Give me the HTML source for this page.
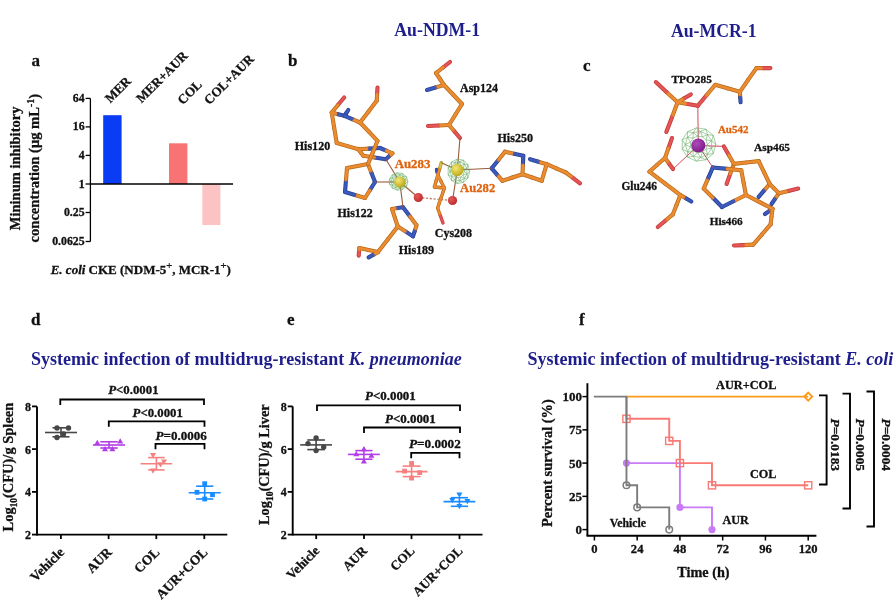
<!DOCTYPE html>
<html><head><meta charset="utf-8"><style>
html,body{margin:0;padding:0;background:#fff;width:895px;height:600px;overflow:hidden}
svg{display:block;will-change:transform}
text{stroke-width:0.3px}
</style></head><body>
<svg width="895" height="600" viewBox="0 0 895 600">
<rect width="895" height="600" fill="#fff"/>
<text x="31.5" y="65.8" font-size="17" fill="#111" stroke="#111" text-anchor="start" style="font-family:'Liberation Serif',serif;font-weight:bold" >a</text>
<text x="288" y="66" font-size="17" fill="#111" stroke="#111" text-anchor="start" style="font-family:'Liberation Serif',serif;font-weight:bold" >b</text>
<text x="583" y="70.7" font-size="17" fill="#111" stroke="#111" text-anchor="start" style="font-family:'Liberation Serif',serif;font-weight:bold" >c</text>
<text x="31" y="325" font-size="17" fill="#111" stroke="#111" text-anchor="start" style="font-family:'Liberation Serif',serif;font-weight:bold" >d</text>
<text x="287" y="325" font-size="17" fill="#111" stroke="#111" text-anchor="start" style="font-family:'Liberation Serif',serif;font-weight:bold" >e</text>
<text x="579" y="324.8" font-size="17" fill="#111" stroke="#111" text-anchor="start" style="font-family:'Liberation Serif',serif;font-weight:bold" >f</text>
<text x="394.3" y="36.4" font-size="18.2" fill="#1d1d8c" text-anchor="start" textLength="85.8" lengthAdjust="spacingAndGlyphs" style="font-family:'Liberation Serif',serif;font-weight:bold" >Au-NDM-1</text>
<text x="670.9" y="36.6" font-size="18.2" fill="#1d1d8c" text-anchor="start" textLength="85.7" lengthAdjust="spacingAndGlyphs" style="font-family:'Liberation Serif',serif;font-weight:bold" >Au-MCR-1</text>
<line x1="90.40" y1="98.40" x2="90.40" y2="241.50" stroke="#000" stroke-width="1.3" />
<line x1="85.60" y1="98.40" x2="90.40" y2="98.40" stroke="#000" stroke-width="1.3" />
<text x="84.6" y="101.9" font-size="11.8" fill="#111" stroke="#111" text-anchor="end" style="font-family:'Liberation Serif',serif;font-weight:bold" >64</text>
<line x1="85.60" y1="126.90" x2="90.40" y2="126.90" stroke="#000" stroke-width="1.3" />
<text x="84.6" y="130.4" font-size="11.8" fill="#111" stroke="#111" text-anchor="end" style="font-family:'Liberation Serif',serif;font-weight:bold" >16</text>
<line x1="85.60" y1="155.40" x2="90.40" y2="155.40" stroke="#000" stroke-width="1.3" />
<text x="84.6" y="158.9" font-size="11.8" fill="#111" stroke="#111" text-anchor="end" style="font-family:'Liberation Serif',serif;font-weight:bold" >4</text>
<line x1="85.60" y1="184.00" x2="90.40" y2="184.00" stroke="#000" stroke-width="1.3" />
<text x="84.6" y="187.5" font-size="11.8" fill="#111" stroke="#111" text-anchor="end" style="font-family:'Liberation Serif',serif;font-weight:bold" >1</text>
<line x1="85.60" y1="212.50" x2="90.40" y2="212.50" stroke="#000" stroke-width="1.3" />
<text x="84.6" y="216.0" font-size="11.8" fill="#111" stroke="#111" text-anchor="end" style="font-family:'Liberation Serif',serif;font-weight:bold" >0.25</text>
<line x1="85.60" y1="241.50" x2="90.40" y2="241.50" stroke="#000" stroke-width="1.3" />
<text x="84.6" y="245.0" font-size="11.8" fill="#111" stroke="#111" text-anchor="end" style="font-family:'Liberation Serif',serif;font-weight:bold" >0.0625</text>
<rect x="103.2" y="115.2" width="18.4" height="68.8" fill="#0a3cf5"/>
<rect x="169" y="143.3" width="18.4" height="40.7" fill="#f87474"/>
<rect x="202.3" y="184" width="18.1" height="41" fill="#fdc3c3"/>
<line x1="90.40" y1="184.00" x2="233.00" y2="184.00" stroke="#000" stroke-width="1.3" />
<text x="110.2" y="103.6" font-size="13.1" fill="#111" stroke="#111" text-anchor="start" transform="rotate(-45 110.2 103.6)" style="font-family:'Liberation Serif',serif;font-weight:bold" >MER</text>
<text x="141.6" y="103.6" font-size="13.1" fill="#111" stroke="#111" text-anchor="start" transform="rotate(-45 141.6 103.6)" style="font-family:'Liberation Serif',serif;font-weight:bold" >MER+AUR</text>
<text x="182.7" y="105.3" font-size="13.1" fill="#111" stroke="#111" text-anchor="start" transform="rotate(-45 182.7 105.3)" style="font-family:'Liberation Serif',serif;font-weight:bold" >COL</text>
<text x="209.2" y="105.3" font-size="13.1" fill="#111" stroke="#111" text-anchor="start" transform="rotate(-45 209.2 105.3)" style="font-family:'Liberation Serif',serif;font-weight:bold" >COL+AUR</text>
<text x="20.4" y="230.2" font-size="14.49" fill="#111" stroke="#111" text-anchor="start" textLength="123.6" lengthAdjust="spacingAndGlyphs" transform="rotate(-90 20.4 230.2)" style="font-family:'Liberation Serif',serif;font-weight:bold" >Mininum inhibitory</text>
<text x="38.6" y="242.5" font-size="15" fill="#111" stroke="#111" textLength="148.5" lengthAdjust="spacingAndGlyphs" transform="rotate(-90 38.6 242.5)" style="font-family:'Liberation Serif',serif;font-weight:bold">concentration (&#956;g mL<tspan font-size="10" dy="-5">-1</tspan><tspan dy="5">)</tspan></text>
<text x="50.7" y="274.1" font-size="13" fill="#111" stroke="#111" style="font-family:'Liberation Serif',serif;font-weight:bold"><tspan font-style="italic">E. coli</tspan> CKE (NDM-5<tspan font-size="10.5" dy="-5" font-weight="normal">+</tspan><tspan dy="5">, MCR-1</tspan><tspan font-size="10.5" dy="-5" font-weight="normal">+</tspan><tspan dy="5">)</tspan></text>
<line x1="37.00" y1="406.40" x2="37.00" y2="535.50" stroke="#000" stroke-width="1.9" />
<line x1="32.00" y1="406.40" x2="37.00" y2="406.40" stroke="#000" stroke-width="1.8" />
<text x="31" y="410.9" font-size="12" fill="#111" stroke="#111" text-anchor="end" style="font-family:'Liberation Serif',serif;font-weight:bold" >8</text>
<line x1="32.00" y1="449.13" x2="37.00" y2="449.13" stroke="#000" stroke-width="1.8" />
<text x="31" y="453.6333333333333" font-size="12" fill="#111" stroke="#111" text-anchor="end" style="font-family:'Liberation Serif',serif;font-weight:bold" >6</text>
<line x1="32.00" y1="491.87" x2="37.00" y2="491.87" stroke="#000" stroke-width="1.8" />
<text x="31" y="496.3666666666667" font-size="12" fill="#111" stroke="#111" text-anchor="end" style="font-family:'Liberation Serif',serif;font-weight:bold" >4</text>
<line x1="32.00" y1="534.60" x2="37.00" y2="534.60" stroke="#000" stroke-width="1.8" />
<text x="31" y="539.1" font-size="12" fill="#111" stroke="#111" text-anchor="end" style="font-family:'Liberation Serif',serif;font-weight:bold" >2</text>
<line x1="37.00" y1="534.60" x2="227.30" y2="534.60" stroke="#000" stroke-width="1.9" />
<line x1="60.90" y1="534.60" x2="60.90" y2="539.10" stroke="#000" stroke-width="1.8" />
<line x1="108.60" y1="534.60" x2="108.60" y2="539.10" stroke="#000" stroke-width="1.8" />
<line x1="156.30" y1="534.60" x2="156.30" y2="539.10" stroke="#000" stroke-width="1.8" />
<line x1="204.30" y1="534.60" x2="204.30" y2="539.10" stroke="#000" stroke-width="1.8" />
<polyline points="60.30,405.00 60.30,399.50 204.00,399.50 204.00,405.00" stroke="#000" stroke-width="1.8" fill="none" />
<polyline points="108.80,426.80 108.80,421.30 204.50,421.30 204.50,426.80" stroke="#000" stroke-width="1.8" fill="none" />
<polyline points="155.50,449.30 155.50,443.80 204.50,443.80 204.50,449.30" stroke="#000" stroke-width="1.8" fill="none" />
<text x="108.2" y="393.8" font-size="13" fill="#111" stroke="#111" textLength="50.4" lengthAdjust="spacingAndGlyphs" style="font-family:'Liberation Serif',serif;font-weight:bold"><tspan font-style="italic">P</tspan>&lt;0.0001</text>
<text x="132.6" y="416.7" font-size="13" fill="#111" stroke="#111" textLength="50.2" lengthAdjust="spacingAndGlyphs" style="font-family:'Liberation Serif',serif;font-weight:bold"><tspan font-style="italic">P</tspan>&lt;0.0001</text>
<text x="155.5" y="439.6" font-size="13" fill="#111" stroke="#111" textLength="51.3" lengthAdjust="spacingAndGlyphs" style="font-family:'Liberation Serif',serif;font-weight:bold"><tspan font-style="italic">P</tspan>=0.0006</text>
<line x1="45.00" y1="432.50" x2="77.00" y2="432.50" stroke="#474747" stroke-width="1.6" />
<line x1="52.50" y1="427.80" x2="69.50" y2="427.80" stroke="#474747" stroke-width="1.6" />
<line x1="52.50" y1="436.80" x2="69.50" y2="436.80" stroke="#474747" stroke-width="1.6" />
<line x1="61.00" y1="427.80" x2="61.00" y2="436.80" stroke="#474747" stroke-width="1.6" />
<circle cx="57" cy="428" r="2.7" fill="#474747"/>
<circle cx="68.5" cy="428" r="2.7" fill="#474747"/>
<circle cx="57" cy="437.5" r="2.7" fill="#474747"/>
<circle cx="63.5" cy="434" r="2.7" fill="#474747"/>
<line x1="93.00" y1="445.00" x2="125.00" y2="445.00" stroke="#b23ee6" stroke-width="1.6" />
<line x1="100.30" y1="441.80" x2="117.70" y2="441.80" stroke="#b23ee6" stroke-width="1.6" />
<line x1="100.30" y1="448.00" x2="117.70" y2="448.00" stroke="#b23ee6" stroke-width="1.6" />
<line x1="109.00" y1="441.80" x2="109.00" y2="448.00" stroke="#b23ee6" stroke-width="1.6" />
<polygon points="97.3,439.8 94.3,445.0 100.3,445.0" fill="#b23ee6"/>
<polygon points="120.2,438.2 117.2,443.4 123.2,443.4" fill="#b23ee6"/>
<polygon points="105,446 102,451.2 108,451.2" fill="#b23ee6"/>
<polygon points="112.4,446 109.4,451.2 115.4,451.2" fill="#b23ee6"/>
<line x1="140.60" y1="463.80" x2="172.20" y2="463.80" stroke="#f58080" stroke-width="1.6" />
<line x1="148.20" y1="457.60" x2="164.60" y2="457.60" stroke="#f58080" stroke-width="1.6" />
<line x1="148.20" y1="469.90" x2="164.60" y2="469.90" stroke="#f58080" stroke-width="1.6" />
<line x1="156.40" y1="457.60" x2="156.40" y2="469.90" stroke="#f58080" stroke-width="1.6" />
<polygon points="153,458.2 150,453.0 156,453.0" fill="#f58080"/>
<polygon points="164,464.6 161,459.40000000000003 167,459.40000000000003" fill="#f58080"/>
<polygon points="160.5,467.4 157.5,462.2 163.5,462.2" fill="#f58080"/>
<polygon points="153,473.8 150,468.6 156,468.6" fill="#f58080"/>
<line x1="188.70" y1="492.70" x2="220.70" y2="492.70" stroke="#1a8cff" stroke-width="1.6" />
<line x1="196.10" y1="486.20" x2="213.30" y2="486.20" stroke="#1a8cff" stroke-width="1.6" />
<line x1="196.10" y1="499.00" x2="213.30" y2="499.00" stroke="#1a8cff" stroke-width="1.6" />
<line x1="204.70" y1="486.20" x2="204.70" y2="499.00" stroke="#1a8cff" stroke-width="1.6" />
<rect x="202.29999999999998" y="481.3" width="4.8" height="4.8" fill="#1a8cff"/>
<rect x="194.6" y="489.90000000000003" width="4.8" height="4.8" fill="#1a8cff"/>
<rect x="210.1" y="492.3" width="4.8" height="4.8" fill="#1a8cff"/>
<rect x="202.29999999999998" y="496.6" width="4.8" height="4.8" fill="#1a8cff"/>
<line x1="292.70" y1="406.40" x2="292.70" y2="535.50" stroke="#000" stroke-width="1.9" />
<line x1="287.70" y1="406.40" x2="292.70" y2="406.40" stroke="#000" stroke-width="1.8" />
<text x="286.7" y="410.9" font-size="12" fill="#111" stroke="#111" text-anchor="end" style="font-family:'Liberation Serif',serif;font-weight:bold" >8</text>
<line x1="287.70" y1="449.13" x2="292.70" y2="449.13" stroke="#000" stroke-width="1.8" />
<text x="286.7" y="453.6333333333333" font-size="12" fill="#111" stroke="#111" text-anchor="end" style="font-family:'Liberation Serif',serif;font-weight:bold" >6</text>
<line x1="287.70" y1="491.87" x2="292.70" y2="491.87" stroke="#000" stroke-width="1.8" />
<text x="286.7" y="496.3666666666667" font-size="12" fill="#111" stroke="#111" text-anchor="end" style="font-family:'Liberation Serif',serif;font-weight:bold" >4</text>
<line x1="287.70" y1="534.60" x2="292.70" y2="534.60" stroke="#000" stroke-width="1.8" />
<text x="286.7" y="539.1" font-size="12" fill="#111" stroke="#111" text-anchor="end" style="font-family:'Liberation Serif',serif;font-weight:bold" >2</text>
<line x1="292.70" y1="534.60" x2="482.50" y2="534.60" stroke="#000" stroke-width="1.9" />
<line x1="316.20" y1="534.60" x2="316.20" y2="539.10" stroke="#000" stroke-width="1.8" />
<line x1="364.00" y1="534.60" x2="364.00" y2="539.10" stroke="#000" stroke-width="1.8" />
<line x1="411.50" y1="534.60" x2="411.50" y2="539.10" stroke="#000" stroke-width="1.8" />
<line x1="459.50" y1="534.60" x2="459.50" y2="539.10" stroke="#000" stroke-width="1.8" />
<polyline points="317.00,410.90 317.00,405.40 460.00,405.40 460.00,410.90" stroke="#000" stroke-width="1.8" fill="none" />
<polyline points="364.00,433.00 364.00,427.50 460.00,427.50 460.00,433.00" stroke="#000" stroke-width="1.8" fill="none" />
<polyline points="411.20,458.30 411.20,452.80 459.50,452.80 459.50,458.30" stroke="#000" stroke-width="1.8" fill="none" />
<text x="365" y="399.7" font-size="12" fill="#111" stroke="#111" textLength="50.8" lengthAdjust="spacingAndGlyphs" style="font-family:'Liberation Serif',serif;font-weight:bold"><tspan font-style="italic">P</tspan>&lt;0.0001</text>
<text x="385" y="422.5" font-size="12" fill="#111" stroke="#111" textLength="50.8" lengthAdjust="spacingAndGlyphs" style="font-family:'Liberation Serif',serif;font-weight:bold"><tspan font-style="italic">P</tspan>&lt;0.0001</text>
<text x="409" y="448" font-size="12" fill="#111" stroke="#111" textLength="51.8" lengthAdjust="spacingAndGlyphs" style="font-family:'Liberation Serif',serif;font-weight:bold"><tspan font-style="italic">P</tspan>=0.0002</text>
<line x1="300.20" y1="444.90" x2="332.00" y2="444.90" stroke="#474747" stroke-width="1.6" />
<line x1="307.30" y1="440.00" x2="324.90" y2="440.00" stroke="#474747" stroke-width="1.6" />
<line x1="307.30" y1="449.60" x2="324.90" y2="449.60" stroke="#474747" stroke-width="1.6" />
<line x1="316.10" y1="440.00" x2="316.10" y2="449.60" stroke="#474747" stroke-width="1.6" />
<circle cx="316.1" cy="438" r="2.7" fill="#474747"/>
<circle cx="308" cy="443.6" r="2.7" fill="#474747"/>
<circle cx="323.7" cy="447.1" r="2.7" fill="#474747"/>
<circle cx="316.1" cy="450.6" r="2.7" fill="#474747"/>
<line x1="348.00" y1="454.40" x2="379.80" y2="454.40" stroke="#b23ee6" stroke-width="1.6" />
<line x1="355.30" y1="450.60" x2="372.50" y2="450.60" stroke="#b23ee6" stroke-width="1.6" />
<line x1="355.30" y1="459.20" x2="372.50" y2="459.20" stroke="#b23ee6" stroke-width="1.6" />
<line x1="363.90" y1="450.60" x2="363.90" y2="459.20" stroke="#b23ee6" stroke-width="1.6" />
<polygon points="363.9,446.1 360.9,451.3 366.9,451.3" fill="#b23ee6"/>
<polygon points="356.3,451.1 353.3,456.3 359.3,456.3" fill="#b23ee6"/>
<polygon points="371.4,452.6 368.4,457.8 374.4,457.8" fill="#b23ee6"/>
<polygon points="363.9,458.2 360.9,463.4 366.9,463.4" fill="#b23ee6"/>
<line x1="395.70" y1="471.60" x2="427.50" y2="471.60" stroke="#f58080" stroke-width="1.6" />
<line x1="402.70" y1="466.10" x2="420.50" y2="466.10" stroke="#f58080" stroke-width="1.6" />
<line x1="402.70" y1="476.60" x2="420.50" y2="476.60" stroke="#f58080" stroke-width="1.6" />
<line x1="411.60" y1="466.10" x2="411.60" y2="476.60" stroke="#f58080" stroke-width="1.6" />
<rect x="409.20000000000005" y="461.1" width="4.8" height="4.8" fill="#f58080"/>
<rect x="402.20000000000005" y="468.70000000000005" width="4.8" height="4.8" fill="#f58080"/>
<rect x="417.3" y="470.20000000000005" width="4.8" height="4.8" fill="#f58080"/>
<rect x="409.20000000000005" y="475.70000000000005" width="4.8" height="4.8" fill="#f58080"/>
<line x1="443.50" y1="501.60" x2="475.30" y2="501.60" stroke="#1a8cff" stroke-width="1.6" />
<line x1="450.80" y1="497.70" x2="468.00" y2="497.70" stroke="#1a8cff" stroke-width="1.6" />
<line x1="450.80" y1="506.30" x2="468.00" y2="506.30" stroke="#1a8cff" stroke-width="1.6" />
<line x1="459.40" y1="497.70" x2="459.40" y2="506.30" stroke="#1a8cff" stroke-width="1.6" />
<polygon points="459.4,497.7 456.4,492.5 462.4,492.5" fill="#1a8cff"/>
<polygon points="452.3,503.3 449.3,498.1 455.3,498.1" fill="#1a8cff"/>
<polygon points="467.4,504.3 464.4,499.1 470.4,499.1" fill="#1a8cff"/>
<polygon points="459.4,509.3 456.4,504.1 462.4,504.1" fill="#1a8cff"/>
<text x="31" y="365" font-size="18" fill="#1d1d8c" style="font-family:'Liberation Serif',serif;font-weight:bold">Systemic infection of multidrug-resistant <tspan font-style="italic">K. pneumoniae</tspan></text>
<text x="527.5" y="365" font-size="18" fill="#1d1d8c" style="font-family:'Liberation Serif',serif;font-weight:bold">Systemic infection of multidrug-resistant <tspan font-style="italic">E. coli</tspan></text>
<line x1="587.40" y1="383.20" x2="587.40" y2="535.70" stroke="#000" stroke-width="1.9" />
<line x1="586.50" y1="535.70" x2="816.40" y2="535.70" stroke="#000" stroke-width="1.9" />
<line x1="582.40" y1="529.60" x2="587.40" y2="529.60" stroke="#000" stroke-width="1.5" />
<text x="581.9" y="534.0" font-size="13" fill="#111" stroke="#111" text-anchor="end" style="font-family:'Liberation Serif',serif;font-weight:bold" >0</text>
<line x1="582.40" y1="496.35" x2="587.40" y2="496.35" stroke="#000" stroke-width="1.5" />
<text x="581.9" y="500.75" font-size="13" fill="#111" stroke="#111" text-anchor="end" style="font-family:'Liberation Serif',serif;font-weight:bold" >25</text>
<line x1="582.40" y1="463.10" x2="587.40" y2="463.10" stroke="#000" stroke-width="1.5" />
<text x="581.9" y="467.5" font-size="13" fill="#111" stroke="#111" text-anchor="end" style="font-family:'Liberation Serif',serif;font-weight:bold" >50</text>
<line x1="582.40" y1="429.85" x2="587.40" y2="429.85" stroke="#000" stroke-width="1.5" />
<text x="581.9" y="434.25" font-size="13" fill="#111" stroke="#111" text-anchor="end" style="font-family:'Liberation Serif',serif;font-weight:bold" >75</text>
<line x1="582.40" y1="396.60" x2="587.40" y2="396.60" stroke="#000" stroke-width="1.5" />
<text x="581.9" y="401.0" font-size="13" fill="#111" stroke="#111" text-anchor="end" style="font-family:'Liberation Serif',serif;font-weight:bold" >100</text>
<line x1="594.40" y1="535.70" x2="594.40" y2="540.50" stroke="#000" stroke-width="1.5" />
<text x="594.4" y="552.9" font-size="12.6" fill="#111" stroke="#111" text-anchor="middle" style="font-family:'Liberation Serif',serif;font-weight:bold" >0</text>
<line x1="637.16" y1="535.70" x2="637.16" y2="540.50" stroke="#000" stroke-width="1.5" />
<text x="637.16" y="552.9" font-size="12.6" fill="#111" stroke="#111" text-anchor="middle" style="font-family:'Liberation Serif',serif;font-weight:bold" >24</text>
<line x1="679.92" y1="535.70" x2="679.92" y2="540.50" stroke="#000" stroke-width="1.5" />
<text x="679.92" y="552.9" font-size="12.6" fill="#111" stroke="#111" text-anchor="middle" style="font-family:'Liberation Serif',serif;font-weight:bold" >48</text>
<line x1="722.68" y1="535.70" x2="722.68" y2="540.50" stroke="#000" stroke-width="1.5" />
<text x="722.6800000000001" y="552.9" font-size="12.6" fill="#111" stroke="#111" text-anchor="middle" style="font-family:'Liberation Serif',serif;font-weight:bold" >72</text>
<line x1="765.44" y1="535.70" x2="765.44" y2="540.50" stroke="#000" stroke-width="1.5" />
<text x="765.44" y="552.9" font-size="12.6" fill="#111" stroke="#111" text-anchor="middle" style="font-family:'Liberation Serif',serif;font-weight:bold" >96</text>
<line x1="808.20" y1="535.70" x2="808.20" y2="540.50" stroke="#000" stroke-width="1.5" />
<text x="808.2" y="552.9" font-size="12.6" fill="#111" stroke="#111" text-anchor="middle" style="font-family:'Liberation Serif',serif;font-weight:bold" >120</text>
<text x="677.3" y="576.7" font-size="14.23" fill="#111" stroke="#111" text-anchor="start" textLength="52.3" lengthAdjust="spacingAndGlyphs" style="font-family:'Liberation Serif',serif;font-weight:bold" >Time (h)</text>
<text x="551.8" y="527" font-size="14.41" fill="#111" stroke="#111" text-anchor="start" textLength="127.8" lengthAdjust="spacingAndGlyphs" transform="rotate(-90 551.8 527)" style="font-family:'Liberation Serif',serif;font-weight:bold" >Percent survival (%)</text>
<polyline points="626.47,396.60 808.20,396.60" stroke="#fd9a1a" stroke-width="1.9" fill="none" />
<polygon points="808.2,392.6 812.2,396.6 808.2,400.6 804.2,396.6" fill="none" stroke="#fd9a1a" stroke-width="1.9"/>
<polyline points="626.47,463.10 679.92,463.10 679.92,507.39 711.99,507.39 711.99,529.60" stroke="#c97af6" stroke-width="1.9" fill="none" />
<circle cx="626.47" cy="463.1" r="3.6" fill="#c97af6"/>
<circle cx="679.92" cy="507.389" r="3.6" fill="#c97af6"/>
<circle cx="711.99" cy="529.6" r="3.6" fill="#c97af6"/>
<polyline points="626.47,396.60 626.47,418.81 669.23,418.81 669.23,440.89 679.92,440.89 679.92,463.10 711.99,463.10 711.99,485.31 808.20,485.31" stroke="#f77a74" stroke-width="1.9" fill="none" />
<rect x="622.87" y="415.211" width="7.2" height="7.2" fill="none" stroke="#f77a74" stroke-width="1.4"/>
<rect x="665.63" y="437.289" width="7.2" height="7.2" fill="none" stroke="#f77a74" stroke-width="1.4"/>
<rect x="676.3199999999999" y="459.5" width="7.2" height="7.2" fill="none" stroke="#f77a74" stroke-width="1.4"/>
<rect x="708.39" y="481.711" width="7.2" height="7.2" fill="none" stroke="#f77a74" stroke-width="1.4"/>
<rect x="804.6" y="481.711" width="7.2" height="7.2" fill="none" stroke="#f77a74" stroke-width="1.4"/>
<polyline points="593.87,396.60 626.47,396.60 626.47,485.31 637.16,485.31 637.16,507.39 669.23,507.39 669.23,529.60" stroke="#7c7c7c" stroke-width="1.9" fill="none" />
<circle cx="626.47" cy="485.31100000000004" r="3.3" fill="none" stroke="#7c7c7c" stroke-width="1.5"/>
<circle cx="637.16" cy="507.389" r="3.3" fill="none" stroke="#7c7c7c" stroke-width="1.5"/>
<circle cx="669.23" cy="529.6" r="3.3" fill="none" stroke="#7c7c7c" stroke-width="1.5"/>
<text x="716" y="388.8" font-size="12.32" fill="#111" stroke="#111" text-anchor="start" textLength="60.4" lengthAdjust="spacingAndGlyphs" style="font-family:'Liberation Serif',serif;font-weight:bold" >AUR+COL</text>
<text x="750" y="477.5" font-size="12.23" fill="#111" stroke="#111" text-anchor="start" textLength="26.5" lengthAdjust="spacingAndGlyphs" style="font-family:'Liberation Serif',serif;font-weight:bold" >COL</text>
<text x="609.8" y="527.2" font-size="11.78" fill="#111" stroke="#111" text-anchor="start" textLength="36.2" lengthAdjust="spacingAndGlyphs" style="font-family:'Liberation Serif',serif;font-weight:bold" >Vehicle</text>
<text x="722.5" y="523.7" font-size="12.09" fill="#111" stroke="#111" text-anchor="start" textLength="26.2" lengthAdjust="spacingAndGlyphs" style="font-family:'Liberation Serif',serif;font-weight:bold" >AUR</text>
<polyline points="819.00,395.40 826.60,395.40 826.60,484.50 819.00,484.50" stroke="#000" stroke-width="1.9" fill="none" />
<polyline points="842.50,393.60 850.00,393.60 850.00,508.50 842.50,508.50" stroke="#000" stroke-width="1.9" fill="none" />
<polyline points="866.50,391.50 874.00,391.50 874.00,526.50 866.50,526.50" stroke="#000" stroke-width="1.9" fill="none" />
<text x="831" y="418.5" font-size="12.5" fill="#111" stroke="#111" textLength="52.5" lengthAdjust="spacingAndGlyphs" transform="rotate(90 831 418.5)" style="font-family:'Liberation Serif',serif;font-weight:bold"><tspan font-style="italic">P</tspan>=0.0183</text>
<text x="856" y="418.5" font-size="12.5" fill="#111" stroke="#111" textLength="52.5" lengthAdjust="spacingAndGlyphs" transform="rotate(90 856 418.5)" style="font-family:'Liberation Serif',serif;font-weight:bold"><tspan font-style="italic">P</tspan>=0.0005</text>
<text x="882" y="418.5" font-size="12.5" fill="#111" stroke="#111" textLength="52.5" lengthAdjust="spacingAndGlyphs" transform="rotate(90 882 418.5)" style="font-family:'Liberation Serif',serif;font-weight:bold"><tspan font-style="italic">P</tspan>=0.0004</text>
<text x="12.7" y="531.5" font-size="15.5" fill="#111" stroke="#111" textLength="128.8" lengthAdjust="spacingAndGlyphs" transform="rotate(-90 12.7 531.5)" style="font-family:'Liberation Serif',serif;font-weight:bold">Log<tspan font-size="10" dy="4">10</tspan><tspan dy="-4">(CFU)/g Spleen</tspan></text>
<text x="269" y="525" font-size="15" fill="#111" stroke="#111" textLength="120.7" lengthAdjust="spacingAndGlyphs" transform="rotate(-90 269 525)" style="font-family:'Liberation Serif',serif;font-weight:bold">Log<tspan font-size="10" dy="4">10</tspan><tspan dy="-4">(CFU)/g Liver</tspan></text>
<text x="64.9" y="553" font-size="13.5" fill="#111" stroke="#111" text-anchor="end" transform="rotate(-45 64.9 553)" style="font-family:'Liberation Serif',serif;font-weight:bold">Vehicle</text>
<text x="112.6" y="553" font-size="13.5" fill="#111" stroke="#111" text-anchor="end" transform="rotate(-45 112.6 553)" style="font-family:'Liberation Serif',serif;font-weight:bold">AUR</text>
<text x="160.3" y="553" font-size="13.5" fill="#111" stroke="#111" text-anchor="end" transform="rotate(-45 160.3 553)" style="font-family:'Liberation Serif',serif;font-weight:bold">COL</text>
<text x="208.3" y="553" font-size="13.5" fill="#111" stroke="#111" text-anchor="end" transform="rotate(-45 208.3 553)" style="font-family:'Liberation Serif',serif;font-weight:bold">AUR+COL</text>
<text x="320.2" y="551.5" font-size="13.1" fill="#111" stroke="#111" text-anchor="end" transform="rotate(-45 320.2 551.5)" style="font-family:'Liberation Serif',serif;font-weight:bold">Vehicle</text>
<text x="368" y="551.5" font-size="13.1" fill="#111" stroke="#111" text-anchor="end" transform="rotate(-45 368 551.5)" style="font-family:'Liberation Serif',serif;font-weight:bold">AUR</text>
<text x="415.5" y="551.5" font-size="13.1" fill="#111" stroke="#111" text-anchor="end" transform="rotate(-45 415.5 551.5)" style="font-family:'Liberation Serif',serif;font-weight:bold">COL</text>
<text x="463.5" y="551.5" font-size="13.1" fill="#111" stroke="#111" text-anchor="end" transform="rotate(-45 463.5 551.5)" style="font-family:'Liberation Serif',serif;font-weight:bold">AUR+COL</text>
<line x1="344.2" y1="97.5" x2="337.9" y2="105.0" stroke="#c43838" stroke-width="4.1" stroke-linecap="round"/>
<line x1="337.9" y1="105.0" x2="331.7" y2="112.5" stroke="#b86a1c" stroke-width="4.1" stroke-linecap="round"/>
<line x1="331.7" y1="112.5" x2="338.1" y2="114.2" stroke="#b86a1c" stroke-width="4.1" stroke-linecap="round"/>
<line x1="338.1" y1="114.2" x2="344.5" y2="115.8" stroke="#273f98" stroke-width="4.1" stroke-linecap="round"/>
<line x1="344.5" y1="115.8" x2="346.4" y2="112.9" stroke="#273f98" stroke-width="4.1" stroke-linecap="round"/>
<line x1="346.4" y1="112.9" x2="348.3" y2="110.0" stroke="#273f98" stroke-width="4.1" stroke-linecap="round"/>
<line x1="331.7" y1="112.5" x2="334.2" y2="127.8" stroke="#b86a1c" stroke-width="4.1" stroke-linecap="round"/>
<line x1="334.2" y1="127.8" x2="336.7" y2="143.0" stroke="#b86a1c" stroke-width="4.1" stroke-linecap="round"/>
<line x1="336.7" y1="143.0" x2="347.5" y2="146.1" stroke="#b86a1c" stroke-width="4.1" stroke-linecap="round"/>
<line x1="347.5" y1="146.1" x2="358.3" y2="149.2" stroke="#b86a1c" stroke-width="4.1" stroke-linecap="round"/>
<line x1="358.3" y1="149.2" x2="369.1" y2="148.6" stroke="#b86a1c" stroke-width="4.1" stroke-linecap="round"/>
<line x1="369.1" y1="148.6" x2="380.0" y2="148.0" stroke="#273f98" stroke-width="4.1" stroke-linecap="round"/>
<line x1="380.0" y1="148.0" x2="386.2" y2="150.7" stroke="#273f98" stroke-width="4.1" stroke-linecap="round"/>
<line x1="386.2" y1="150.7" x2="392.5" y2="153.3" stroke="#b86a1c" stroke-width="4.1" stroke-linecap="round"/>
<line x1="392.5" y1="153.3" x2="389.1" y2="156.2" stroke="#b86a1c" stroke-width="4.1" stroke-linecap="round"/>
<line x1="389.1" y1="156.2" x2="385.8" y2="159.2" stroke="#273f98" stroke-width="4.1" stroke-linecap="round"/>
<line x1="385.8" y1="159.2" x2="374.6" y2="157.5" stroke="#273f98" stroke-width="4.1" stroke-linecap="round"/>
<line x1="374.6" y1="157.5" x2="363.3" y2="155.8" stroke="#b86a1c" stroke-width="4.1" stroke-linecap="round"/>
<line x1="363.3" y1="155.8" x2="360.8" y2="152.5" stroke="#b86a1c" stroke-width="4.1" stroke-linecap="round"/>
<line x1="360.8" y1="152.5" x2="358.3" y2="149.2" stroke="#b86a1c" stroke-width="4.1" stroke-linecap="round"/>
<line x1="368.0" y1="164.0" x2="371.5" y2="173.0" stroke="#b86a1c" stroke-width="4.1" stroke-linecap="round"/>
<line x1="371.5" y1="173.0" x2="375.0" y2="182.0" stroke="#273f98" stroke-width="4.1" stroke-linecap="round"/>
<line x1="375.0" y1="182.0" x2="370.0" y2="190.0" stroke="#273f98" stroke-width="4.1" stroke-linecap="round"/>
<line x1="370.0" y1="190.0" x2="365.0" y2="198.0" stroke="#b86a1c" stroke-width="4.1" stroke-linecap="round"/>
<line x1="365.0" y1="198.0" x2="355.0" y2="195.0" stroke="#b86a1c" stroke-width="4.1" stroke-linecap="round"/>
<line x1="355.0" y1="195.0" x2="345.0" y2="192.0" stroke="#273f98" stroke-width="4.1" stroke-linecap="round"/>
<line x1="345.0" y1="192.0" x2="346.0" y2="180.0" stroke="#273f98" stroke-width="4.1" stroke-linecap="round"/>
<line x1="346.0" y1="180.0" x2="347.0" y2="168.0" stroke="#b86a1c" stroke-width="4.1" stroke-linecap="round"/>
<line x1="347.0" y1="168.0" x2="357.5" y2="166.0" stroke="#b86a1c" stroke-width="4.1" stroke-linecap="round"/>
<line x1="357.5" y1="166.0" x2="368.0" y2="164.0" stroke="#b86a1c" stroke-width="4.1" stroke-linecap="round"/>
<line x1="344.2" y1="97.5" x2="337.9" y2="105.0" stroke="#e45656" stroke-width="2.6" stroke-linecap="round"/>
<line x1="337.9" y1="105.0" x2="331.7" y2="112.5" stroke="#ec8c30" stroke-width="2.6" stroke-linecap="round"/>
<line x1="331.7" y1="112.5" x2="338.1" y2="114.2" stroke="#ec8c30" stroke-width="2.6" stroke-linecap="round"/>
<line x1="338.1" y1="114.2" x2="344.5" y2="115.8" stroke="#3b5abb" stroke-width="2.6" stroke-linecap="round"/>
<line x1="344.5" y1="115.8" x2="346.4" y2="112.9" stroke="#3b5abb" stroke-width="2.6" stroke-linecap="round"/>
<line x1="346.4" y1="112.9" x2="348.3" y2="110.0" stroke="#3b5abb" stroke-width="2.6" stroke-linecap="round"/>
<line x1="331.7" y1="112.5" x2="334.2" y2="127.8" stroke="#ec8c30" stroke-width="2.6" stroke-linecap="round"/>
<line x1="334.2" y1="127.8" x2="336.7" y2="143.0" stroke="#ec8c30" stroke-width="2.6" stroke-linecap="round"/>
<line x1="336.7" y1="143.0" x2="347.5" y2="146.1" stroke="#ec8c30" stroke-width="2.6" stroke-linecap="round"/>
<line x1="347.5" y1="146.1" x2="358.3" y2="149.2" stroke="#ec8c30" stroke-width="2.6" stroke-linecap="round"/>
<line x1="358.3" y1="149.2" x2="369.1" y2="148.6" stroke="#ec8c30" stroke-width="2.6" stroke-linecap="round"/>
<line x1="369.1" y1="148.6" x2="380.0" y2="148.0" stroke="#3b5abb" stroke-width="2.6" stroke-linecap="round"/>
<line x1="380.0" y1="148.0" x2="386.2" y2="150.7" stroke="#3b5abb" stroke-width="2.6" stroke-linecap="round"/>
<line x1="386.2" y1="150.7" x2="392.5" y2="153.3" stroke="#ec8c30" stroke-width="2.6" stroke-linecap="round"/>
<line x1="392.5" y1="153.3" x2="389.1" y2="156.2" stroke="#ec8c30" stroke-width="2.6" stroke-linecap="round"/>
<line x1="389.1" y1="156.2" x2="385.8" y2="159.2" stroke="#3b5abb" stroke-width="2.6" stroke-linecap="round"/>
<line x1="385.8" y1="159.2" x2="374.6" y2="157.5" stroke="#3b5abb" stroke-width="2.6" stroke-linecap="round"/>
<line x1="374.6" y1="157.5" x2="363.3" y2="155.8" stroke="#ec8c30" stroke-width="2.6" stroke-linecap="round"/>
<line x1="363.3" y1="155.8" x2="360.8" y2="152.5" stroke="#ec8c30" stroke-width="2.6" stroke-linecap="round"/>
<line x1="360.8" y1="152.5" x2="358.3" y2="149.2" stroke="#ec8c30" stroke-width="2.6" stroke-linecap="round"/>
<line x1="368.0" y1="164.0" x2="371.5" y2="173.0" stroke="#ec8c30" stroke-width="2.6" stroke-linecap="round"/>
<line x1="371.5" y1="173.0" x2="375.0" y2="182.0" stroke="#3b5abb" stroke-width="2.6" stroke-linecap="round"/>
<line x1="375.0" y1="182.0" x2="370.0" y2="190.0" stroke="#3b5abb" stroke-width="2.6" stroke-linecap="round"/>
<line x1="370.0" y1="190.0" x2="365.0" y2="198.0" stroke="#ec8c30" stroke-width="2.6" stroke-linecap="round"/>
<line x1="365.0" y1="198.0" x2="355.0" y2="195.0" stroke="#ec8c30" stroke-width="2.6" stroke-linecap="round"/>
<line x1="355.0" y1="195.0" x2="345.0" y2="192.0" stroke="#3b5abb" stroke-width="2.6" stroke-linecap="round"/>
<line x1="345.0" y1="192.0" x2="346.0" y2="180.0" stroke="#3b5abb" stroke-width="2.6" stroke-linecap="round"/>
<line x1="346.0" y1="180.0" x2="347.0" y2="168.0" stroke="#ec8c30" stroke-width="2.6" stroke-linecap="round"/>
<line x1="347.0" y1="168.0" x2="357.5" y2="166.0" stroke="#ec8c30" stroke-width="2.6" stroke-linecap="round"/>
<line x1="357.5" y1="166.0" x2="368.0" y2="164.0" stroke="#ec8c30" stroke-width="2.6" stroke-linecap="round"/>
<line x1="377.5" y1="87.5" x2="377.1" y2="94.2" stroke="#c43838" stroke-width="4.1" stroke-linecap="round"/>
<line x1="377.1" y1="94.2" x2="376.7" y2="100.8" stroke="#b86a1c" stroke-width="4.1" stroke-linecap="round"/>
<line x1="376.7" y1="100.8" x2="368.4" y2="111.7" stroke="#b86a1c" stroke-width="4.1" stroke-linecap="round"/>
<line x1="368.4" y1="111.7" x2="360.0" y2="122.5" stroke="#b86a1c" stroke-width="4.1" stroke-linecap="round"/>
<line x1="360.0" y1="122.5" x2="352.2" y2="119.2" stroke="#b86a1c" stroke-width="4.1" stroke-linecap="round"/>
<line x1="352.2" y1="119.2" x2="344.5" y2="115.8" stroke="#273f98" stroke-width="4.1" stroke-linecap="round"/>
<line x1="360.0" y1="122.5" x2="368.8" y2="131.7" stroke="#b86a1c" stroke-width="4.1" stroke-linecap="round"/>
<line x1="368.8" y1="131.7" x2="377.5" y2="140.8" stroke="#b86a1c" stroke-width="4.1" stroke-linecap="round"/>
<line x1="377.5" y1="140.8" x2="372.8" y2="152.4" stroke="#b86a1c" stroke-width="4.1" stroke-linecap="round"/>
<line x1="372.8" y1="152.4" x2="368.0" y2="164.0" stroke="#b86a1c" stroke-width="4.1" stroke-linecap="round"/>
<line x1="377.5" y1="87.5" x2="377.1" y2="94.2" stroke="#e45656" stroke-width="2.6" stroke-linecap="round"/>
<line x1="377.1" y1="94.2" x2="376.7" y2="100.8" stroke="#ec8c30" stroke-width="2.6" stroke-linecap="round"/>
<line x1="376.7" y1="100.8" x2="368.4" y2="111.7" stroke="#ec8c30" stroke-width="2.6" stroke-linecap="round"/>
<line x1="368.4" y1="111.7" x2="360.0" y2="122.5" stroke="#ec8c30" stroke-width="2.6" stroke-linecap="round"/>
<line x1="360.0" y1="122.5" x2="352.2" y2="119.2" stroke="#ec8c30" stroke-width="2.6" stroke-linecap="round"/>
<line x1="352.2" y1="119.2" x2="344.5" y2="115.8" stroke="#3b5abb" stroke-width="2.6" stroke-linecap="round"/>
<line x1="360.0" y1="122.5" x2="368.8" y2="131.7" stroke="#ec8c30" stroke-width="2.6" stroke-linecap="round"/>
<line x1="368.8" y1="131.7" x2="377.5" y2="140.8" stroke="#ec8c30" stroke-width="2.6" stroke-linecap="round"/>
<line x1="377.5" y1="140.8" x2="372.8" y2="152.4" stroke="#ec8c30" stroke-width="2.6" stroke-linecap="round"/>
<line x1="372.8" y1="152.4" x2="368.0" y2="164.0" stroke="#ec8c30" stroke-width="2.6" stroke-linecap="round"/>
<line x1="392.0" y1="209.0" x2="397.5" y2="208.1" stroke="#b86a1c" stroke-width="4.1" stroke-linecap="round"/>
<line x1="397.5" y1="208.1" x2="403.0" y2="207.2" stroke="#273f98" stroke-width="4.1" stroke-linecap="round"/>
<line x1="403.0" y1="207.2" x2="409.8" y2="216.2" stroke="#273f98" stroke-width="4.1" stroke-linecap="round"/>
<line x1="409.8" y1="216.2" x2="416.5" y2="225.3" stroke="#b86a1c" stroke-width="4.1" stroke-linecap="round"/>
<line x1="416.5" y1="225.3" x2="414.8" y2="230.9" stroke="#b86a1c" stroke-width="4.1" stroke-linecap="round"/>
<line x1="414.8" y1="230.9" x2="413.0" y2="236.4" stroke="#273f98" stroke-width="4.1" stroke-linecap="round"/>
<line x1="413.0" y1="236.4" x2="405.4" y2="231.4" stroke="#273f98" stroke-width="4.1" stroke-linecap="round"/>
<line x1="405.4" y1="231.4" x2="397.8" y2="226.5" stroke="#b86a1c" stroke-width="4.1" stroke-linecap="round"/>
<line x1="397.8" y1="226.5" x2="394.9" y2="217.8" stroke="#b86a1c" stroke-width="4.1" stroke-linecap="round"/>
<line x1="394.9" y1="217.8" x2="392.0" y2="209.0" stroke="#b86a1c" stroke-width="4.1" stroke-linecap="round"/>
<line x1="397.8" y1="226.5" x2="387.9" y2="239.3" stroke="#b86a1c" stroke-width="4.1" stroke-linecap="round"/>
<line x1="387.9" y1="239.3" x2="378.0" y2="252.1" stroke="#b86a1c" stroke-width="4.1" stroke-linecap="round"/>
<line x1="378.0" y1="252.1" x2="368.6" y2="250.1" stroke="#b86a1c" stroke-width="4.1" stroke-linecap="round"/>
<line x1="368.6" y1="250.1" x2="359.3" y2="248.0" stroke="#b86a1c" stroke-width="4.1" stroke-linecap="round"/>
<line x1="359.3" y1="248.0" x2="359.0" y2="251.8" stroke="#b86a1c" stroke-width="4.1" stroke-linecap="round"/>
<line x1="359.0" y1="251.8" x2="358.7" y2="255.6" stroke="#c43838" stroke-width="4.1" stroke-linecap="round"/>
<line x1="378.0" y1="252.1" x2="373.4" y2="254.8" stroke="#b86a1c" stroke-width="4.1" stroke-linecap="round"/>
<line x1="373.4" y1="254.8" x2="368.7" y2="257.4" stroke="#273f98" stroke-width="4.1" stroke-linecap="round"/>
<line x1="392.0" y1="209.0" x2="397.5" y2="208.1" stroke="#ec8c30" stroke-width="2.6" stroke-linecap="round"/>
<line x1="397.5" y1="208.1" x2="403.0" y2="207.2" stroke="#3b5abb" stroke-width="2.6" stroke-linecap="round"/>
<line x1="403.0" y1="207.2" x2="409.8" y2="216.2" stroke="#3b5abb" stroke-width="2.6" stroke-linecap="round"/>
<line x1="409.8" y1="216.2" x2="416.5" y2="225.3" stroke="#ec8c30" stroke-width="2.6" stroke-linecap="round"/>
<line x1="416.5" y1="225.3" x2="414.8" y2="230.9" stroke="#ec8c30" stroke-width="2.6" stroke-linecap="round"/>
<line x1="414.8" y1="230.9" x2="413.0" y2="236.4" stroke="#3b5abb" stroke-width="2.6" stroke-linecap="round"/>
<line x1="413.0" y1="236.4" x2="405.4" y2="231.4" stroke="#3b5abb" stroke-width="2.6" stroke-linecap="round"/>
<line x1="405.4" y1="231.4" x2="397.8" y2="226.5" stroke="#ec8c30" stroke-width="2.6" stroke-linecap="round"/>
<line x1="397.8" y1="226.5" x2="394.9" y2="217.8" stroke="#ec8c30" stroke-width="2.6" stroke-linecap="round"/>
<line x1="394.9" y1="217.8" x2="392.0" y2="209.0" stroke="#ec8c30" stroke-width="2.6" stroke-linecap="round"/>
<line x1="397.8" y1="226.5" x2="387.9" y2="239.3" stroke="#ec8c30" stroke-width="2.6" stroke-linecap="round"/>
<line x1="387.9" y1="239.3" x2="378.0" y2="252.1" stroke="#ec8c30" stroke-width="2.6" stroke-linecap="round"/>
<line x1="378.0" y1="252.1" x2="368.6" y2="250.1" stroke="#ec8c30" stroke-width="2.6" stroke-linecap="round"/>
<line x1="368.6" y1="250.1" x2="359.3" y2="248.0" stroke="#ec8c30" stroke-width="2.6" stroke-linecap="round"/>
<line x1="359.3" y1="248.0" x2="359.0" y2="251.8" stroke="#ec8c30" stroke-width="2.6" stroke-linecap="round"/>
<line x1="359.0" y1="251.8" x2="358.7" y2="255.6" stroke="#e45656" stroke-width="2.6" stroke-linecap="round"/>
<line x1="378.0" y1="252.1" x2="373.4" y2="254.8" stroke="#ec8c30" stroke-width="2.6" stroke-linecap="round"/>
<line x1="373.4" y1="254.8" x2="368.7" y2="257.4" stroke="#3b5abb" stroke-width="2.6" stroke-linecap="round"/>
<line x1="450.0" y1="62.0" x2="443.0" y2="67.5" stroke="#c43838" stroke-width="4.1" stroke-linecap="round"/>
<line x1="443.0" y1="67.5" x2="436.0" y2="73.0" stroke="#b86a1c" stroke-width="4.1" stroke-linecap="round"/>
<line x1="436.0" y1="73.0" x2="440.0" y2="79.0" stroke="#b86a1c" stroke-width="4.1" stroke-linecap="round"/>
<line x1="440.0" y1="79.0" x2="444.0" y2="85.0" stroke="#b86a1c" stroke-width="4.1" stroke-linecap="round"/>
<line x1="444.0" y1="85.0" x2="435.5" y2="87.5" stroke="#b86a1c" stroke-width="4.1" stroke-linecap="round"/>
<line x1="435.5" y1="87.5" x2="427.0" y2="90.0" stroke="#273f98" stroke-width="4.1" stroke-linecap="round"/>
<line x1="444.0" y1="85.0" x2="453.0" y2="94.5" stroke="#b86a1c" stroke-width="4.1" stroke-linecap="round"/>
<line x1="453.0" y1="94.5" x2="462.0" y2="104.0" stroke="#b86a1c" stroke-width="4.1" stroke-linecap="round"/>
<line x1="462.0" y1="104.0" x2="455.5" y2="114.5" stroke="#b86a1c" stroke-width="4.1" stroke-linecap="round"/>
<line x1="455.5" y1="114.5" x2="449.0" y2="125.0" stroke="#b86a1c" stroke-width="4.1" stroke-linecap="round"/>
<line x1="449.0" y1="125.0" x2="438.5" y2="125.5" stroke="#b86a1c" stroke-width="4.1" stroke-linecap="round"/>
<line x1="438.5" y1="125.5" x2="428.0" y2="126.0" stroke="#c43838" stroke-width="4.1" stroke-linecap="round"/>
<line x1="449.0" y1="125.0" x2="454.5" y2="131.5" stroke="#b86a1c" stroke-width="4.1" stroke-linecap="round"/>
<line x1="454.5" y1="131.5" x2="460.0" y2="138.0" stroke="#c43838" stroke-width="4.1" stroke-linecap="round"/>
<line x1="450.0" y1="62.0" x2="443.0" y2="67.5" stroke="#e45656" stroke-width="2.6" stroke-linecap="round"/>
<line x1="443.0" y1="67.5" x2="436.0" y2="73.0" stroke="#ec8c30" stroke-width="2.6" stroke-linecap="round"/>
<line x1="436.0" y1="73.0" x2="440.0" y2="79.0" stroke="#ec8c30" stroke-width="2.6" stroke-linecap="round"/>
<line x1="440.0" y1="79.0" x2="444.0" y2="85.0" stroke="#ec8c30" stroke-width="2.6" stroke-linecap="round"/>
<line x1="444.0" y1="85.0" x2="435.5" y2="87.5" stroke="#ec8c30" stroke-width="2.6" stroke-linecap="round"/>
<line x1="435.5" y1="87.5" x2="427.0" y2="90.0" stroke="#3b5abb" stroke-width="2.6" stroke-linecap="round"/>
<line x1="444.0" y1="85.0" x2="453.0" y2="94.5" stroke="#ec8c30" stroke-width="2.6" stroke-linecap="round"/>
<line x1="453.0" y1="94.5" x2="462.0" y2="104.0" stroke="#ec8c30" stroke-width="2.6" stroke-linecap="round"/>
<line x1="462.0" y1="104.0" x2="455.5" y2="114.5" stroke="#ec8c30" stroke-width="2.6" stroke-linecap="round"/>
<line x1="455.5" y1="114.5" x2="449.0" y2="125.0" stroke="#ec8c30" stroke-width="2.6" stroke-linecap="round"/>
<line x1="449.0" y1="125.0" x2="438.5" y2="125.5" stroke="#ec8c30" stroke-width="2.6" stroke-linecap="round"/>
<line x1="438.5" y1="125.5" x2="428.0" y2="126.0" stroke="#e45656" stroke-width="2.6" stroke-linecap="round"/>
<line x1="449.0" y1="125.0" x2="454.5" y2="131.5" stroke="#ec8c30" stroke-width="2.6" stroke-linecap="round"/>
<line x1="454.5" y1="131.5" x2="460.0" y2="138.0" stroke="#e45656" stroke-width="2.6" stroke-linecap="round"/>
<line x1="491.7" y1="168.3" x2="498.4" y2="160.0" stroke="#273f98" stroke-width="4.1" stroke-linecap="round"/>
<line x1="498.4" y1="160.0" x2="505.0" y2="151.7" stroke="#b86a1c" stroke-width="4.1" stroke-linecap="round"/>
<line x1="505.0" y1="151.7" x2="514.1" y2="153.8" stroke="#b86a1c" stroke-width="4.1" stroke-linecap="round"/>
<line x1="514.1" y1="153.8" x2="523.3" y2="155.8" stroke="#273f98" stroke-width="4.1" stroke-linecap="round"/>
<line x1="523.3" y1="155.8" x2="522.9" y2="165.0" stroke="#273f98" stroke-width="4.1" stroke-linecap="round"/>
<line x1="522.9" y1="165.0" x2="522.5" y2="174.2" stroke="#b86a1c" stroke-width="4.1" stroke-linecap="round"/>
<line x1="522.5" y1="174.2" x2="512.5" y2="177.5" stroke="#b86a1c" stroke-width="4.1" stroke-linecap="round"/>
<line x1="512.5" y1="177.5" x2="502.5" y2="180.8" stroke="#b86a1c" stroke-width="4.1" stroke-linecap="round"/>
<line x1="502.5" y1="180.8" x2="497.1" y2="174.6" stroke="#b86a1c" stroke-width="4.1" stroke-linecap="round"/>
<line x1="497.1" y1="174.6" x2="491.7" y2="168.3" stroke="#273f98" stroke-width="4.1" stroke-linecap="round"/>
<line x1="522.5" y1="174.2" x2="532.1" y2="177.5" stroke="#b86a1c" stroke-width="4.1" stroke-linecap="round"/>
<line x1="532.1" y1="177.5" x2="541.7" y2="180.8" stroke="#b86a1c" stroke-width="4.1" stroke-linecap="round"/>
<line x1="541.7" y1="180.8" x2="544.2" y2="172.5" stroke="#b86a1c" stroke-width="4.1" stroke-linecap="round"/>
<line x1="544.2" y1="172.5" x2="546.7" y2="164.2" stroke="#b86a1c" stroke-width="4.1" stroke-linecap="round"/>
<line x1="546.7" y1="164.2" x2="538.4" y2="161.7" stroke="#b86a1c" stroke-width="4.1" stroke-linecap="round"/>
<line x1="538.4" y1="161.7" x2="530.0" y2="159.2" stroke="#273f98" stroke-width="4.1" stroke-linecap="round"/>
<line x1="546.7" y1="164.2" x2="556.2" y2="168.3" stroke="#b86a1c" stroke-width="4.1" stroke-linecap="round"/>
<line x1="556.2" y1="168.3" x2="565.8" y2="172.5" stroke="#b86a1c" stroke-width="4.1" stroke-linecap="round"/>
<line x1="565.8" y1="172.5" x2="572.9" y2="177.9" stroke="#b86a1c" stroke-width="4.1" stroke-linecap="round"/>
<line x1="572.9" y1="177.9" x2="580.0" y2="183.3" stroke="#c43838" stroke-width="4.1" stroke-linecap="round"/>
<line x1="491.7" y1="168.3" x2="498.4" y2="160.0" stroke="#3b5abb" stroke-width="2.6" stroke-linecap="round"/>
<line x1="498.4" y1="160.0" x2="505.0" y2="151.7" stroke="#ec8c30" stroke-width="2.6" stroke-linecap="round"/>
<line x1="505.0" y1="151.7" x2="514.1" y2="153.8" stroke="#ec8c30" stroke-width="2.6" stroke-linecap="round"/>
<line x1="514.1" y1="153.8" x2="523.3" y2="155.8" stroke="#3b5abb" stroke-width="2.6" stroke-linecap="round"/>
<line x1="523.3" y1="155.8" x2="522.9" y2="165.0" stroke="#3b5abb" stroke-width="2.6" stroke-linecap="round"/>
<line x1="522.9" y1="165.0" x2="522.5" y2="174.2" stroke="#ec8c30" stroke-width="2.6" stroke-linecap="round"/>
<line x1="522.5" y1="174.2" x2="512.5" y2="177.5" stroke="#ec8c30" stroke-width="2.6" stroke-linecap="round"/>
<line x1="512.5" y1="177.5" x2="502.5" y2="180.8" stroke="#ec8c30" stroke-width="2.6" stroke-linecap="round"/>
<line x1="502.5" y1="180.8" x2="497.1" y2="174.6" stroke="#ec8c30" stroke-width="2.6" stroke-linecap="round"/>
<line x1="497.1" y1="174.6" x2="491.7" y2="168.3" stroke="#3b5abb" stroke-width="2.6" stroke-linecap="round"/>
<line x1="522.5" y1="174.2" x2="532.1" y2="177.5" stroke="#ec8c30" stroke-width="2.6" stroke-linecap="round"/>
<line x1="532.1" y1="177.5" x2="541.7" y2="180.8" stroke="#ec8c30" stroke-width="2.6" stroke-linecap="round"/>
<line x1="541.7" y1="180.8" x2="544.2" y2="172.5" stroke="#ec8c30" stroke-width="2.6" stroke-linecap="round"/>
<line x1="544.2" y1="172.5" x2="546.7" y2="164.2" stroke="#ec8c30" stroke-width="2.6" stroke-linecap="round"/>
<line x1="546.7" y1="164.2" x2="538.4" y2="161.7" stroke="#ec8c30" stroke-width="2.6" stroke-linecap="round"/>
<line x1="538.4" y1="161.7" x2="530.0" y2="159.2" stroke="#3b5abb" stroke-width="2.6" stroke-linecap="round"/>
<line x1="546.7" y1="164.2" x2="556.2" y2="168.3" stroke="#ec8c30" stroke-width="2.6" stroke-linecap="round"/>
<line x1="556.2" y1="168.3" x2="565.8" y2="172.5" stroke="#ec8c30" stroke-width="2.6" stroke-linecap="round"/>
<line x1="565.8" y1="172.5" x2="572.9" y2="177.9" stroke="#ec8c30" stroke-width="2.6" stroke-linecap="round"/>
<line x1="572.9" y1="177.9" x2="580.0" y2="183.3" stroke="#e45656" stroke-width="2.6" stroke-linecap="round"/>
<line x1="437.8" y1="175.0" x2="437.1" y2="172.2" stroke="#b86a1c" stroke-width="3.4" stroke-linecap="round"/>
<line x1="437.1" y1="172.2" x2="436.5" y2="169.5" stroke="#273f98" stroke-width="3.4" stroke-linecap="round"/>
<line x1="441.3" y1="162.7" x2="439.6" y2="168.8" stroke="#b09a28" stroke-width="3.4" stroke-linecap="round"/>
<line x1="439.6" y1="168.8" x2="437.8" y2="175.0" stroke="#b86a1c" stroke-width="3.4" stroke-linecap="round"/>
<line x1="437.8" y1="175.0" x2="436.1" y2="181.0" stroke="#b86a1c" stroke-width="3.4" stroke-linecap="round"/>
<line x1="436.1" y1="181.0" x2="434.4" y2="187.0" stroke="#b86a1c" stroke-width="3.4" stroke-linecap="round"/>
<line x1="434.4" y1="187.0" x2="439.4" y2="187.5" stroke="#b86a1c" stroke-width="3.4" stroke-linecap="round"/>
<line x1="439.4" y1="187.5" x2="444.4" y2="188.0" stroke="#b86a1c" stroke-width="3.4" stroke-linecap="round"/>
<line x1="444.4" y1="188.0" x2="441.1" y2="181.5" stroke="#b86a1c" stroke-width="3.4" stroke-linecap="round"/>
<line x1="441.1" y1="181.5" x2="437.8" y2="175.0" stroke="#b86a1c" stroke-width="3.4" stroke-linecap="round"/>
<line x1="444.4" y1="188.0" x2="442.7" y2="193.0" stroke="#b86a1c" stroke-width="3.4" stroke-linecap="round"/>
<line x1="442.7" y1="193.0" x2="441.0" y2="198.0" stroke="#b86a1c" stroke-width="3.4" stroke-linecap="round"/>
<line x1="441.0" y1="198.0" x2="439.3" y2="203.0" stroke="#b86a1c" stroke-width="3.4" stroke-linecap="round"/>
<line x1="439.3" y1="203.0" x2="437.6" y2="208.0" stroke="#b86a1c" stroke-width="3.4" stroke-linecap="round"/>
<line x1="437.6" y1="208.0" x2="440.3" y2="215.5" stroke="#b86a1c" stroke-width="3.4" stroke-linecap="round"/>
<line x1="440.3" y1="215.5" x2="443.0" y2="223.0" stroke="#c43838" stroke-width="3.4" stroke-linecap="round"/>
<line x1="437.8" y1="175.0" x2="437.1" y2="172.2" stroke="#ec8c30" stroke-width="2.1" stroke-linecap="round"/>
<line x1="437.1" y1="172.2" x2="436.5" y2="169.5" stroke="#3b5abb" stroke-width="2.1" stroke-linecap="round"/>
<line x1="441.3" y1="162.7" x2="439.6" y2="168.8" stroke="#d8c448" stroke-width="2.1" stroke-linecap="round"/>
<line x1="439.6" y1="168.8" x2="437.8" y2="175.0" stroke="#ec8c30" stroke-width="2.1" stroke-linecap="round"/>
<line x1="437.8" y1="175.0" x2="436.1" y2="181.0" stroke="#ec8c30" stroke-width="2.1" stroke-linecap="round"/>
<line x1="436.1" y1="181.0" x2="434.4" y2="187.0" stroke="#ec8c30" stroke-width="2.1" stroke-linecap="round"/>
<line x1="434.4" y1="187.0" x2="439.4" y2="187.5" stroke="#ec8c30" stroke-width="2.1" stroke-linecap="round"/>
<line x1="439.4" y1="187.5" x2="444.4" y2="188.0" stroke="#ec8c30" stroke-width="2.1" stroke-linecap="round"/>
<line x1="444.4" y1="188.0" x2="441.1" y2="181.5" stroke="#ec8c30" stroke-width="2.1" stroke-linecap="round"/>
<line x1="441.1" y1="181.5" x2="437.8" y2="175.0" stroke="#ec8c30" stroke-width="2.1" stroke-linecap="round"/>
<line x1="444.4" y1="188.0" x2="442.7" y2="193.0" stroke="#ec8c30" stroke-width="2.1" stroke-linecap="round"/>
<line x1="442.7" y1="193.0" x2="441.0" y2="198.0" stroke="#ec8c30" stroke-width="2.1" stroke-linecap="round"/>
<line x1="441.0" y1="198.0" x2="439.3" y2="203.0" stroke="#ec8c30" stroke-width="2.1" stroke-linecap="round"/>
<line x1="439.3" y1="203.0" x2="437.6" y2="208.0" stroke="#ec8c30" stroke-width="2.1" stroke-linecap="round"/>
<line x1="437.6" y1="208.0" x2="440.3" y2="215.5" stroke="#ec8c30" stroke-width="2.1" stroke-linecap="round"/>
<line x1="440.3" y1="215.5" x2="443.0" y2="223.0" stroke="#e45656" stroke-width="2.1" stroke-linecap="round"/>
<line x1="399.8" y1="182" x2="385.8" y2="159.2" stroke="#9b5a3c" stroke-width="1.1"/>
<line x1="399.8" y1="182" x2="375" y2="182" stroke="#9b5a3c" stroke-width="1.1"/>
<line x1="399.8" y1="182" x2="403" y2="207.2" stroke="#9b5a3c" stroke-width="1.1"/>
<line x1="399.8" y1="182" x2="418.3" y2="197.5" stroke="#9b5a3c" stroke-width="1.1"/>
<line x1="457.3" y1="170" x2="460" y2="138" stroke="#9b5a3c" stroke-width="1.1"/>
<line x1="457.3" y1="170" x2="441.3" y2="162.7" stroke="#9b5a3c" stroke-width="1.1"/>
<line x1="457.3" y1="170" x2="491.7" y2="168.3" stroke="#9b5a3c" stroke-width="1.1"/>
<line x1="457.3" y1="170" x2="452.5" y2="200.5" stroke="#9b5a3c" stroke-width="1.1"/>
<line x1="418.3" y1="197.5" x2="452.5" y2="200.5" stroke="#c08060" stroke-width="1.4" stroke-dasharray="2.2,1.6"/>
<g fill="none" stroke="#6aae6a" stroke-width="0.6">
<polygon points="408.00,181.50 406.49,186.26 402.45,189.50 397.15,190.21 392.28,188.15 389.38,183.98 389.38,179.02 392.28,174.85 397.15,172.79 402.45,173.50 406.49,176.74"/>
<polygon points="405.61,183.43 403.35,186.69 399.55,188.29 395.42,187.74 392.27,185.21 391.09,181.50 392.27,177.79 395.42,175.26 399.55,174.71 403.35,176.31 405.61,179.57"/>
<polygon points="403.25,181.50 402.50,183.88 400.47,185.50 397.82,185.86 395.39,184.83 393.94,182.74 393.94,180.26 395.39,178.17 397.82,177.14 400.47,177.50 402.50,179.12"/>
<line x1="408.00" y1="181.50" x2="405.61" y2="183.43"/>
<line x1="406.49" y1="186.26" x2="405.61" y2="183.43"/>
<line x1="405.61" y1="183.43" x2="403.25" y2="181.50"/>
<line x1="405.61" y1="183.43" x2="402.50" y2="183.88"/>
<line x1="406.49" y1="186.26" x2="403.35" y2="186.69"/>
<line x1="402.45" y1="189.50" x2="403.35" y2="186.69"/>
<line x1="403.35" y1="186.69" x2="402.50" y2="183.88"/>
<line x1="403.35" y1="186.69" x2="400.47" y2="185.50"/>
<line x1="402.45" y1="189.50" x2="399.55" y2="188.29"/>
<line x1="397.15" y1="190.21" x2="399.55" y2="188.29"/>
<line x1="399.55" y1="188.29" x2="400.47" y2="185.50"/>
<line x1="399.55" y1="188.29" x2="397.82" y2="185.86"/>
<line x1="397.15" y1="190.21" x2="395.42" y2="187.74"/>
<line x1="392.28" y1="188.15" x2="395.42" y2="187.74"/>
<line x1="395.42" y1="187.74" x2="397.82" y2="185.86"/>
<line x1="395.42" y1="187.74" x2="395.39" y2="184.83"/>
<line x1="392.28" y1="188.15" x2="392.27" y2="185.21"/>
<line x1="389.38" y1="183.98" x2="392.27" y2="185.21"/>
<line x1="392.27" y1="185.21" x2="395.39" y2="184.83"/>
<line x1="392.27" y1="185.21" x2="393.94" y2="182.74"/>
<line x1="389.38" y1="183.98" x2="391.09" y2="181.50"/>
<line x1="389.38" y1="179.02" x2="391.09" y2="181.50"/>
<line x1="391.09" y1="181.50" x2="393.94" y2="182.74"/>
<line x1="391.09" y1="181.50" x2="393.94" y2="180.26"/>
<line x1="389.38" y1="179.02" x2="392.27" y2="177.79"/>
<line x1="392.28" y1="174.85" x2="392.27" y2="177.79"/>
<line x1="392.27" y1="177.79" x2="393.94" y2="180.26"/>
<line x1="392.27" y1="177.79" x2="395.39" y2="178.17"/>
<line x1="392.28" y1="174.85" x2="395.42" y2="175.26"/>
<line x1="397.15" y1="172.79" x2="395.42" y2="175.26"/>
<line x1="395.42" y1="175.26" x2="395.39" y2="178.17"/>
<line x1="395.42" y1="175.26" x2="397.82" y2="177.14"/>
<line x1="397.15" y1="172.79" x2="399.55" y2="174.71"/>
<line x1="402.45" y1="173.50" x2="399.55" y2="174.71"/>
<line x1="399.55" y1="174.71" x2="397.82" y2="177.14"/>
<line x1="399.55" y1="174.71" x2="400.47" y2="177.50"/>
<line x1="402.45" y1="173.50" x2="403.35" y2="176.31"/>
<line x1="406.49" y1="176.74" x2="403.35" y2="176.31"/>
<line x1="403.35" y1="176.31" x2="400.47" y2="177.50"/>
<line x1="403.35" y1="176.31" x2="402.50" y2="179.12"/>
<line x1="406.49" y1="176.74" x2="405.61" y2="179.57"/>
<line x1="408.00" y1="181.50" x2="405.61" y2="179.57"/>
<line x1="405.61" y1="179.57" x2="402.50" y2="179.12"/>
<line x1="405.61" y1="179.57" x2="403.25" y2="181.50"/>
</g>
<g fill="none" stroke="#6aae6a" stroke-width="0.6">
<polygon points="469.70,171.30 467.95,177.95 463.27,182.49 457.13,183.47 451.50,180.60 448.15,174.77 448.15,167.83 451.50,162.00 457.13,159.13 463.27,160.11 467.95,164.65"/>
<polygon points="466.93,174.00 464.32,178.55 459.92,180.80 455.14,180.03 451.48,176.49 450.12,171.30 451.48,166.11 455.14,162.57 459.92,161.80 464.32,164.05 466.93,168.60"/>
<polygon points="464.20,171.30 463.33,174.62 460.98,176.89 457.92,177.39 455.10,175.95 453.42,173.03 453.42,169.57 455.10,166.65 457.92,165.21 460.98,165.71 463.33,167.98"/>
<line x1="469.70" y1="171.30" x2="466.93" y2="174.00"/>
<line x1="467.95" y1="177.95" x2="466.93" y2="174.00"/>
<line x1="466.93" y1="174.00" x2="464.20" y2="171.30"/>
<line x1="466.93" y1="174.00" x2="463.33" y2="174.62"/>
<line x1="467.95" y1="177.95" x2="464.32" y2="178.55"/>
<line x1="463.27" y1="182.49" x2="464.32" y2="178.55"/>
<line x1="464.32" y1="178.55" x2="463.33" y2="174.62"/>
<line x1="464.32" y1="178.55" x2="460.98" y2="176.89"/>
<line x1="463.27" y1="182.49" x2="459.92" y2="180.80"/>
<line x1="457.13" y1="183.47" x2="459.92" y2="180.80"/>
<line x1="459.92" y1="180.80" x2="460.98" y2="176.89"/>
<line x1="459.92" y1="180.80" x2="457.92" y2="177.39"/>
<line x1="457.13" y1="183.47" x2="455.14" y2="180.03"/>
<line x1="451.50" y1="180.60" x2="455.14" y2="180.03"/>
<line x1="455.14" y1="180.03" x2="457.92" y2="177.39"/>
<line x1="455.14" y1="180.03" x2="455.10" y2="175.95"/>
<line x1="451.50" y1="180.60" x2="451.48" y2="176.49"/>
<line x1="448.15" y1="174.77" x2="451.48" y2="176.49"/>
<line x1="451.48" y1="176.49" x2="455.10" y2="175.95"/>
<line x1="451.48" y1="176.49" x2="453.42" y2="173.03"/>
<line x1="448.15" y1="174.77" x2="450.12" y2="171.30"/>
<line x1="448.15" y1="167.83" x2="450.12" y2="171.30"/>
<line x1="450.12" y1="171.30" x2="453.42" y2="173.03"/>
<line x1="450.12" y1="171.30" x2="453.42" y2="169.57"/>
<line x1="448.15" y1="167.83" x2="451.48" y2="166.11"/>
<line x1="451.50" y1="162.00" x2="451.48" y2="166.11"/>
<line x1="451.48" y1="166.11" x2="453.42" y2="169.57"/>
<line x1="451.48" y1="166.11" x2="455.10" y2="166.65"/>
<line x1="451.50" y1="162.00" x2="455.14" y2="162.57"/>
<line x1="457.13" y1="159.13" x2="455.14" y2="162.57"/>
<line x1="455.14" y1="162.57" x2="455.10" y2="166.65"/>
<line x1="455.14" y1="162.57" x2="457.92" y2="165.21"/>
<line x1="457.13" y1="159.13" x2="459.92" y2="161.80"/>
<line x1="463.27" y1="160.11" x2="459.92" y2="161.80"/>
<line x1="459.92" y1="161.80" x2="457.92" y2="165.21"/>
<line x1="459.92" y1="161.80" x2="460.98" y2="165.71"/>
<line x1="463.27" y1="160.11" x2="464.32" y2="164.05"/>
<line x1="467.95" y1="164.65" x2="464.32" y2="164.05"/>
<line x1="464.32" y1="164.05" x2="460.98" y2="165.71"/>
<line x1="464.32" y1="164.05" x2="463.33" y2="167.98"/>
<line x1="467.95" y1="164.65" x2="466.93" y2="168.60"/>
<line x1="469.70" y1="171.30" x2="466.93" y2="168.60"/>
<line x1="466.93" y1="168.60" x2="463.33" y2="167.98"/>
<line x1="466.93" y1="168.60" x2="464.20" y2="171.30"/>
</g>
<radialGradient id="g1" cx="0.38" cy="0.35" r="0.7"><stop offset="0" stop-color="#f4e870"/><stop offset="1" stop-color="#b8a414"/></radialGradient><circle cx="399.8" cy="182" r="5.6" fill="url(#g1)"/>
<radialGradient id="g2" cx="0.38" cy="0.35" r="0.7"><stop offset="0" stop-color="#f4e870"/><stop offset="1" stop-color="#b8a414"/></radialGradient><circle cx="457.3" cy="170" r="6.2" fill="url(#g2)"/>
<radialGradient id="r1" cx="0.38" cy="0.35" r="0.7"><stop offset="0" stop-color="#e85a5a"/><stop offset="1" stop-color="#b82828"/></radialGradient><circle cx="418.3" cy="197.5" r="4.6" fill="url(#r1)"/>
<radialGradient id="r2" cx="0.38" cy="0.35" r="0.7"><stop offset="0" stop-color="#e85a5a"/><stop offset="1" stop-color="#b82828"/></radialGradient><circle cx="452.5" cy="200.5" r="4.6" fill="url(#r2)"/>
<line x1="769.7" y1="184.0" x2="764.2" y2="190.4" stroke="#b86a1c" stroke-width="4.1" stroke-linecap="round"/>
<line x1="764.2" y1="190.4" x2="758.7" y2="196.9" stroke="#273f98" stroke-width="4.1" stroke-linecap="round"/>
<line x1="778.9" y1="193.2" x2="775.2" y2="198.6" stroke="#b86a1c" stroke-width="4.1" stroke-linecap="round"/>
<line x1="775.2" y1="198.6" x2="771.5" y2="204.0" stroke="#273f98" stroke-width="4.1" stroke-linecap="round"/>
<line x1="726.6" y1="184.0" x2="730.2" y2="173.9" stroke="#c43838" stroke-width="4.1" stroke-linecap="round"/>
<line x1="730.2" y1="173.9" x2="733.9" y2="163.9" stroke="#b86a1c" stroke-width="4.1" stroke-linecap="round"/>
<line x1="772.5" y1="208.8" x2="768.8" y2="211.4" stroke="#b86a1c" stroke-width="4.1" stroke-linecap="round"/>
<line x1="768.8" y1="211.4" x2="765.0" y2="214.0" stroke="#273f98" stroke-width="4.1" stroke-linecap="round"/>
<line x1="769.7" y1="184.0" x2="764.2" y2="190.4" stroke="#ec8c30" stroke-width="2.6" stroke-linecap="round"/>
<line x1="764.2" y1="190.4" x2="758.7" y2="196.9" stroke="#3b5abb" stroke-width="2.6" stroke-linecap="round"/>
<line x1="778.9" y1="193.2" x2="775.2" y2="198.6" stroke="#ec8c30" stroke-width="2.6" stroke-linecap="round"/>
<line x1="775.2" y1="198.6" x2="771.5" y2="204.0" stroke="#3b5abb" stroke-width="2.6" stroke-linecap="round"/>
<line x1="726.6" y1="184.0" x2="730.2" y2="173.9" stroke="#e45656" stroke-width="2.6" stroke-linecap="round"/>
<line x1="730.2" y1="173.9" x2="733.9" y2="163.9" stroke="#ec8c30" stroke-width="2.6" stroke-linecap="round"/>
<line x1="772.5" y1="208.8" x2="768.8" y2="211.4" stroke="#ec8c30" stroke-width="2.6" stroke-linecap="round"/>
<line x1="768.8" y1="211.4" x2="765.0" y2="214.0" stroke="#3b5abb" stroke-width="2.6" stroke-linecap="round"/>
<line x1="677.6" y1="102.3" x2="666.7" y2="92.2" stroke="#b86a1c" stroke-width="4.1" stroke-linecap="round"/>
<line x1="666.7" y1="92.2" x2="655.8" y2="82.1" stroke="#c43838" stroke-width="4.1" stroke-linecap="round"/>
<line x1="677.6" y1="102.3" x2="684.2" y2="98.3" stroke="#b86a1c" stroke-width="4.1" stroke-linecap="round"/>
<line x1="684.2" y1="98.3" x2="690.8" y2="94.4" stroke="#c43838" stroke-width="4.1" stroke-linecap="round"/>
<line x1="677.6" y1="102.3" x2="672.0" y2="117.2" stroke="#b86a1c" stroke-width="4.1" stroke-linecap="round"/>
<line x1="672.0" y1="117.2" x2="666.3" y2="132.0" stroke="#c43838" stroke-width="4.1" stroke-linecap="round"/>
<line x1="677.6" y1="102.3" x2="687.7" y2="104.0" stroke="#b86a1c" stroke-width="4.1" stroke-linecap="round"/>
<line x1="687.7" y1="104.0" x2="697.8" y2="105.8" stroke="#c43838" stroke-width="4.1" stroke-linecap="round"/>
<line x1="697.8" y1="105.8" x2="706.5" y2="95.3" stroke="#c43838" stroke-width="4.1" stroke-linecap="round"/>
<line x1="706.5" y1="95.3" x2="715.3" y2="84.8" stroke="#b86a1c" stroke-width="4.1" stroke-linecap="round"/>
<line x1="715.3" y1="84.8" x2="727.5" y2="88.3" stroke="#b86a1c" stroke-width="4.1" stroke-linecap="round"/>
<line x1="727.5" y1="88.3" x2="739.8" y2="91.8" stroke="#b86a1c" stroke-width="4.1" stroke-linecap="round"/>
<line x1="739.8" y1="91.8" x2="740.2" y2="97.0" stroke="#b86a1c" stroke-width="4.1" stroke-linecap="round"/>
<line x1="740.2" y1="97.0" x2="740.6" y2="102.3" stroke="#273f98" stroke-width="4.1" stroke-linecap="round"/>
<line x1="739.8" y1="91.8" x2="748.1" y2="79.9" stroke="#b86a1c" stroke-width="4.1" stroke-linecap="round"/>
<line x1="748.1" y1="79.9" x2="756.4" y2="68.1" stroke="#b86a1c" stroke-width="4.1" stroke-linecap="round"/>
<line x1="756.4" y1="68.1" x2="763.4" y2="68.1" stroke="#b86a1c" stroke-width="4.1" stroke-linecap="round"/>
<line x1="763.4" y1="68.1" x2="770.4" y2="68.1" stroke="#c43838" stroke-width="4.1" stroke-linecap="round"/>
<line x1="677.6" y1="102.3" x2="666.7" y2="92.2" stroke="#ec8c30" stroke-width="2.6" stroke-linecap="round"/>
<line x1="666.7" y1="92.2" x2="655.8" y2="82.1" stroke="#e45656" stroke-width="2.6" stroke-linecap="round"/>
<line x1="677.6" y1="102.3" x2="684.2" y2="98.3" stroke="#ec8c30" stroke-width="2.6" stroke-linecap="round"/>
<line x1="684.2" y1="98.3" x2="690.8" y2="94.4" stroke="#e45656" stroke-width="2.6" stroke-linecap="round"/>
<line x1="677.6" y1="102.3" x2="672.0" y2="117.2" stroke="#ec8c30" stroke-width="2.6" stroke-linecap="round"/>
<line x1="672.0" y1="117.2" x2="666.3" y2="132.0" stroke="#e45656" stroke-width="2.6" stroke-linecap="round"/>
<line x1="677.6" y1="102.3" x2="687.7" y2="104.0" stroke="#ec8c30" stroke-width="2.6" stroke-linecap="round"/>
<line x1="687.7" y1="104.0" x2="697.8" y2="105.8" stroke="#e45656" stroke-width="2.6" stroke-linecap="round"/>
<line x1="697.8" y1="105.8" x2="706.5" y2="95.3" stroke="#e45656" stroke-width="2.6" stroke-linecap="round"/>
<line x1="706.5" y1="95.3" x2="715.3" y2="84.8" stroke="#ec8c30" stroke-width="2.6" stroke-linecap="round"/>
<line x1="715.3" y1="84.8" x2="727.5" y2="88.3" stroke="#ec8c30" stroke-width="2.6" stroke-linecap="round"/>
<line x1="727.5" y1="88.3" x2="739.8" y2="91.8" stroke="#ec8c30" stroke-width="2.6" stroke-linecap="round"/>
<line x1="739.8" y1="91.8" x2="740.2" y2="97.0" stroke="#ec8c30" stroke-width="2.6" stroke-linecap="round"/>
<line x1="740.2" y1="97.0" x2="740.6" y2="102.3" stroke="#3b5abb" stroke-width="2.6" stroke-linecap="round"/>
<line x1="739.8" y1="91.8" x2="748.1" y2="79.9" stroke="#ec8c30" stroke-width="2.6" stroke-linecap="round"/>
<line x1="748.1" y1="79.9" x2="756.4" y2="68.1" stroke="#ec8c30" stroke-width="2.6" stroke-linecap="round"/>
<line x1="756.4" y1="68.1" x2="763.4" y2="68.1" stroke="#ec8c30" stroke-width="2.6" stroke-linecap="round"/>
<line x1="763.4" y1="68.1" x2="770.4" y2="68.1" stroke="#e45656" stroke-width="2.6" stroke-linecap="round"/>
<line x1="672.0" y1="138.0" x2="668.5" y2="148.0" stroke="#c43838" stroke-width="4.1" stroke-linecap="round"/>
<line x1="668.5" y1="148.0" x2="665.0" y2="158.0" stroke="#b86a1c" stroke-width="4.1" stroke-linecap="round"/>
<line x1="665.0" y1="158.0" x2="669.0" y2="163.5" stroke="#b86a1c" stroke-width="4.1" stroke-linecap="round"/>
<line x1="669.0" y1="163.5" x2="673.0" y2="169.0" stroke="#c43838" stroke-width="4.1" stroke-linecap="round"/>
<line x1="665.0" y1="158.0" x2="657.2" y2="164.8" stroke="#b86a1c" stroke-width="4.1" stroke-linecap="round"/>
<line x1="657.2" y1="164.8" x2="649.4" y2="171.7" stroke="#b86a1c" stroke-width="4.1" stroke-linecap="round"/>
<line x1="649.4" y1="171.7" x2="664.9" y2="183.4" stroke="#b86a1c" stroke-width="4.1" stroke-linecap="round"/>
<line x1="664.9" y1="183.4" x2="680.4" y2="195.1" stroke="#b86a1c" stroke-width="4.1" stroke-linecap="round"/>
<line x1="680.4" y1="195.1" x2="685.8" y2="198.3" stroke="#b86a1c" stroke-width="4.1" stroke-linecap="round"/>
<line x1="685.8" y1="198.3" x2="691.3" y2="201.5" stroke="#273f98" stroke-width="4.1" stroke-linecap="round"/>
<line x1="680.4" y1="195.1" x2="676.6" y2="204.8" stroke="#b86a1c" stroke-width="4.1" stroke-linecap="round"/>
<line x1="676.6" y1="204.8" x2="672.8" y2="214.4" stroke="#b86a1c" stroke-width="4.1" stroke-linecap="round"/>
<line x1="672.8" y1="214.4" x2="665.3" y2="220.7" stroke="#b86a1c" stroke-width="4.1" stroke-linecap="round"/>
<line x1="665.3" y1="220.7" x2="657.8" y2="227.0" stroke="#c43838" stroke-width="4.1" stroke-linecap="round"/>
<line x1="672.0" y1="138.0" x2="668.5" y2="148.0" stroke="#e45656" stroke-width="2.6" stroke-linecap="round"/>
<line x1="668.5" y1="148.0" x2="665.0" y2="158.0" stroke="#ec8c30" stroke-width="2.6" stroke-linecap="round"/>
<line x1="665.0" y1="158.0" x2="669.0" y2="163.5" stroke="#ec8c30" stroke-width="2.6" stroke-linecap="round"/>
<line x1="669.0" y1="163.5" x2="673.0" y2="169.0" stroke="#e45656" stroke-width="2.6" stroke-linecap="round"/>
<line x1="665.0" y1="158.0" x2="657.2" y2="164.8" stroke="#ec8c30" stroke-width="2.6" stroke-linecap="round"/>
<line x1="657.2" y1="164.8" x2="649.4" y2="171.7" stroke="#ec8c30" stroke-width="2.6" stroke-linecap="round"/>
<line x1="649.4" y1="171.7" x2="664.9" y2="183.4" stroke="#ec8c30" stroke-width="2.6" stroke-linecap="round"/>
<line x1="664.9" y1="183.4" x2="680.4" y2="195.1" stroke="#ec8c30" stroke-width="2.6" stroke-linecap="round"/>
<line x1="680.4" y1="195.1" x2="685.8" y2="198.3" stroke="#ec8c30" stroke-width="2.6" stroke-linecap="round"/>
<line x1="685.8" y1="198.3" x2="691.3" y2="201.5" stroke="#3b5abb" stroke-width="2.6" stroke-linecap="round"/>
<line x1="680.4" y1="195.1" x2="676.6" y2="204.8" stroke="#ec8c30" stroke-width="2.6" stroke-linecap="round"/>
<line x1="676.6" y1="204.8" x2="672.8" y2="214.4" stroke="#ec8c30" stroke-width="2.6" stroke-linecap="round"/>
<line x1="672.8" y1="214.4" x2="665.3" y2="220.7" stroke="#ec8c30" stroke-width="2.6" stroke-linecap="round"/>
<line x1="665.3" y1="220.7" x2="657.8" y2="227.0" stroke="#e45656" stroke-width="2.6" stroke-linecap="round"/>
<line x1="723.9" y1="146.4" x2="728.9" y2="155.2" stroke="#c43838" stroke-width="4.1" stroke-linecap="round"/>
<line x1="728.9" y1="155.2" x2="733.9" y2="163.9" stroke="#b86a1c" stroke-width="4.1" stroke-linecap="round"/>
<line x1="733.9" y1="163.9" x2="746.3" y2="162.5" stroke="#b86a1c" stroke-width="4.1" stroke-linecap="round"/>
<line x1="746.3" y1="162.5" x2="758.7" y2="161.1" stroke="#b86a1c" stroke-width="4.1" stroke-linecap="round"/>
<line x1="758.7" y1="161.1" x2="764.2" y2="172.6" stroke="#b86a1c" stroke-width="4.1" stroke-linecap="round"/>
<line x1="764.2" y1="172.6" x2="769.7" y2="184.0" stroke="#b86a1c" stroke-width="4.1" stroke-linecap="round"/>
<line x1="769.7" y1="184.0" x2="774.3" y2="188.6" stroke="#b86a1c" stroke-width="4.1" stroke-linecap="round"/>
<line x1="774.3" y1="188.6" x2="778.9" y2="193.2" stroke="#b86a1c" stroke-width="4.1" stroke-linecap="round"/>
<line x1="778.9" y1="193.2" x2="788.5" y2="190.9" stroke="#b86a1c" stroke-width="4.1" stroke-linecap="round"/>
<line x1="788.5" y1="190.9" x2="798.2" y2="188.6" stroke="#c43838" stroke-width="4.1" stroke-linecap="round"/>
<line x1="723.9" y1="146.4" x2="728.9" y2="155.2" stroke="#e45656" stroke-width="2.6" stroke-linecap="round"/>
<line x1="728.9" y1="155.2" x2="733.9" y2="163.9" stroke="#ec8c30" stroke-width="2.6" stroke-linecap="round"/>
<line x1="733.9" y1="163.9" x2="746.3" y2="162.5" stroke="#ec8c30" stroke-width="2.6" stroke-linecap="round"/>
<line x1="746.3" y1="162.5" x2="758.7" y2="161.1" stroke="#ec8c30" stroke-width="2.6" stroke-linecap="round"/>
<line x1="758.7" y1="161.1" x2="764.2" y2="172.6" stroke="#ec8c30" stroke-width="2.6" stroke-linecap="round"/>
<line x1="764.2" y1="172.6" x2="769.7" y2="184.0" stroke="#ec8c30" stroke-width="2.6" stroke-linecap="round"/>
<line x1="769.7" y1="184.0" x2="774.3" y2="188.6" stroke="#ec8c30" stroke-width="2.6" stroke-linecap="round"/>
<line x1="774.3" y1="188.6" x2="778.9" y2="193.2" stroke="#ec8c30" stroke-width="2.6" stroke-linecap="round"/>
<line x1="778.9" y1="193.2" x2="788.5" y2="190.9" stroke="#ec8c30" stroke-width="2.6" stroke-linecap="round"/>
<line x1="788.5" y1="190.9" x2="798.2" y2="188.6" stroke="#e45656" stroke-width="2.6" stroke-linecap="round"/>
<line x1="712.8" y1="167.5" x2="727.0" y2="168.9" stroke="#273f98" stroke-width="4.1" stroke-linecap="round"/>
<line x1="727.0" y1="168.9" x2="741.3" y2="170.3" stroke="#b86a1c" stroke-width="4.1" stroke-linecap="round"/>
<line x1="741.3" y1="170.3" x2="743.6" y2="182.7" stroke="#b86a1c" stroke-width="4.1" stroke-linecap="round"/>
<line x1="743.6" y1="182.7" x2="745.9" y2="195.0" stroke="#b86a1c" stroke-width="4.1" stroke-linecap="round"/>
<line x1="745.9" y1="195.0" x2="734.0" y2="201.0" stroke="#b86a1c" stroke-width="4.1" stroke-linecap="round"/>
<line x1="734.0" y1="201.0" x2="722.0" y2="207.0" stroke="#273f98" stroke-width="4.1" stroke-linecap="round"/>
<line x1="722.0" y1="207.0" x2="712.9" y2="197.8" stroke="#273f98" stroke-width="4.1" stroke-linecap="round"/>
<line x1="712.9" y1="197.8" x2="703.7" y2="188.6" stroke="#b86a1c" stroke-width="4.1" stroke-linecap="round"/>
<line x1="703.7" y1="188.6" x2="708.2" y2="178.1" stroke="#b86a1c" stroke-width="4.1" stroke-linecap="round"/>
<line x1="708.2" y1="178.1" x2="712.8" y2="167.5" stroke="#273f98" stroke-width="4.1" stroke-linecap="round"/>
<line x1="745.9" y1="195.0" x2="759.2" y2="201.9" stroke="#b86a1c" stroke-width="4.1" stroke-linecap="round"/>
<line x1="759.2" y1="201.9" x2="772.5" y2="208.8" stroke="#b86a1c" stroke-width="4.1" stroke-linecap="round"/>
<line x1="772.5" y1="208.8" x2="771.5" y2="216.6" stroke="#b86a1c" stroke-width="4.1" stroke-linecap="round"/>
<line x1="771.5" y1="216.6" x2="770.6" y2="224.4" stroke="#b86a1c" stroke-width="4.1" stroke-linecap="round"/>
<line x1="770.6" y1="224.4" x2="761.9" y2="234.5" stroke="#b86a1c" stroke-width="4.1" stroke-linecap="round"/>
<line x1="761.9" y1="234.5" x2="753.2" y2="244.6" stroke="#b86a1c" stroke-width="4.1" stroke-linecap="round"/>
<line x1="753.2" y1="244.6" x2="743.6" y2="245.1" stroke="#b86a1c" stroke-width="4.1" stroke-linecap="round"/>
<line x1="743.6" y1="245.1" x2="734.0" y2="245.5" stroke="#c43838" stroke-width="4.1" stroke-linecap="round"/>
<line x1="712.8" y1="167.5" x2="727.0" y2="168.9" stroke="#3b5abb" stroke-width="2.6" stroke-linecap="round"/>
<line x1="727.0" y1="168.9" x2="741.3" y2="170.3" stroke="#ec8c30" stroke-width="2.6" stroke-linecap="round"/>
<line x1="741.3" y1="170.3" x2="743.6" y2="182.7" stroke="#ec8c30" stroke-width="2.6" stroke-linecap="round"/>
<line x1="743.6" y1="182.7" x2="745.9" y2="195.0" stroke="#ec8c30" stroke-width="2.6" stroke-linecap="round"/>
<line x1="745.9" y1="195.0" x2="734.0" y2="201.0" stroke="#ec8c30" stroke-width="2.6" stroke-linecap="round"/>
<line x1="734.0" y1="201.0" x2="722.0" y2="207.0" stroke="#3b5abb" stroke-width="2.6" stroke-linecap="round"/>
<line x1="722.0" y1="207.0" x2="712.9" y2="197.8" stroke="#3b5abb" stroke-width="2.6" stroke-linecap="round"/>
<line x1="712.9" y1="197.8" x2="703.7" y2="188.6" stroke="#ec8c30" stroke-width="2.6" stroke-linecap="round"/>
<line x1="703.7" y1="188.6" x2="708.2" y2="178.1" stroke="#ec8c30" stroke-width="2.6" stroke-linecap="round"/>
<line x1="708.2" y1="178.1" x2="712.8" y2="167.5" stroke="#3b5abb" stroke-width="2.6" stroke-linecap="round"/>
<line x1="745.9" y1="195.0" x2="759.2" y2="201.9" stroke="#ec8c30" stroke-width="2.6" stroke-linecap="round"/>
<line x1="759.2" y1="201.9" x2="772.5" y2="208.8" stroke="#ec8c30" stroke-width="2.6" stroke-linecap="round"/>
<line x1="772.5" y1="208.8" x2="771.5" y2="216.6" stroke="#ec8c30" stroke-width="2.6" stroke-linecap="round"/>
<line x1="771.5" y1="216.6" x2="770.6" y2="224.4" stroke="#ec8c30" stroke-width="2.6" stroke-linecap="round"/>
<line x1="770.6" y1="224.4" x2="761.9" y2="234.5" stroke="#ec8c30" stroke-width="2.6" stroke-linecap="round"/>
<line x1="761.9" y1="234.5" x2="753.2" y2="244.6" stroke="#ec8c30" stroke-width="2.6" stroke-linecap="round"/>
<line x1="753.2" y1="244.6" x2="743.6" y2="245.1" stroke="#ec8c30" stroke-width="2.6" stroke-linecap="round"/>
<line x1="743.6" y1="245.1" x2="734.0" y2="245.5" stroke="#e45656" stroke-width="2.6" stroke-linecap="round"/>
<line x1="698.3" y1="145.5" x2="697.8" y2="105.8" stroke="#d64a5a" stroke-width="1"/>
<line x1="698.3" y1="145.5" x2="673" y2="169" stroke="#d64a5a" stroke-width="1"/>
<line x1="698.3" y1="145.5" x2="723.9" y2="146.4" stroke="#d64a5a" stroke-width="1"/>
<line x1="698.3" y1="145.5" x2="712.8" y2="167.5" stroke="#d64a5a" stroke-width="1"/>
<g fill="none" stroke="#6aae6a" stroke-width="0.6">
<polygon points="715.95,144.50 713.22,153.58 705.90,159.78 696.30,161.13 687.49,157.20 682.25,149.23 682.25,139.77 687.49,131.80 696.30,127.87 705.90,129.22 713.22,135.42"/>
<polygon points="711.62,148.19 707.54,154.40 700.66,157.47 693.18,156.42 687.46,151.58 685.33,144.50 687.46,137.42 693.18,132.58 700.66,131.53 707.54,134.60 711.62,140.81"/>
<polygon points="707.35,144.50 705.98,149.04 702.32,152.14 697.53,152.81 693.12,150.85 690.50,146.87 690.50,142.13 693.12,138.15 697.53,136.19 702.32,136.86 705.98,139.96"/>
<line x1="715.95" y1="144.50" x2="711.62" y2="148.19"/>
<line x1="713.22" y1="153.58" x2="711.62" y2="148.19"/>
<line x1="711.62" y1="148.19" x2="707.35" y2="144.50"/>
<line x1="711.62" y1="148.19" x2="705.98" y2="149.04"/>
<line x1="713.22" y1="153.58" x2="707.54" y2="154.40"/>
<line x1="705.90" y1="159.78" x2="707.54" y2="154.40"/>
<line x1="707.54" y1="154.40" x2="705.98" y2="149.04"/>
<line x1="707.54" y1="154.40" x2="702.32" y2="152.14"/>
<line x1="705.90" y1="159.78" x2="700.66" y2="157.47"/>
<line x1="696.30" y1="161.13" x2="700.66" y2="157.47"/>
<line x1="700.66" y1="157.47" x2="702.32" y2="152.14"/>
<line x1="700.66" y1="157.47" x2="697.53" y2="152.81"/>
<line x1="696.30" y1="161.13" x2="693.18" y2="156.42"/>
<line x1="687.49" y1="157.20" x2="693.18" y2="156.42"/>
<line x1="693.18" y1="156.42" x2="697.53" y2="152.81"/>
<line x1="693.18" y1="156.42" x2="693.12" y2="150.85"/>
<line x1="687.49" y1="157.20" x2="687.46" y2="151.58"/>
<line x1="682.25" y1="149.23" x2="687.46" y2="151.58"/>
<line x1="687.46" y1="151.58" x2="693.12" y2="150.85"/>
<line x1="687.46" y1="151.58" x2="690.50" y2="146.87"/>
<line x1="682.25" y1="149.23" x2="685.33" y2="144.50"/>
<line x1="682.25" y1="139.77" x2="685.33" y2="144.50"/>
<line x1="685.33" y1="144.50" x2="690.50" y2="146.87"/>
<line x1="685.33" y1="144.50" x2="690.50" y2="142.13"/>
<line x1="682.25" y1="139.77" x2="687.46" y2="137.42"/>
<line x1="687.49" y1="131.80" x2="687.46" y2="137.42"/>
<line x1="687.46" y1="137.42" x2="690.50" y2="142.13"/>
<line x1="687.46" y1="137.42" x2="693.12" y2="138.15"/>
<line x1="687.49" y1="131.80" x2="693.18" y2="132.58"/>
<line x1="696.30" y1="127.87" x2="693.18" y2="132.58"/>
<line x1="693.18" y1="132.58" x2="693.12" y2="138.15"/>
<line x1="693.18" y1="132.58" x2="697.53" y2="136.19"/>
<line x1="696.30" y1="127.87" x2="700.66" y2="131.53"/>
<line x1="705.90" y1="129.22" x2="700.66" y2="131.53"/>
<line x1="700.66" y1="131.53" x2="697.53" y2="136.19"/>
<line x1="700.66" y1="131.53" x2="702.32" y2="136.86"/>
<line x1="705.90" y1="129.22" x2="707.54" y2="134.60"/>
<line x1="713.22" y1="135.42" x2="707.54" y2="134.60"/>
<line x1="707.54" y1="134.60" x2="702.32" y2="136.86"/>
<line x1="707.54" y1="134.60" x2="705.98" y2="139.96"/>
<line x1="713.22" y1="135.42" x2="711.62" y2="140.81"/>
<line x1="715.95" y1="144.50" x2="711.62" y2="140.81"/>
<line x1="711.62" y1="140.81" x2="705.98" y2="139.96"/>
<line x1="711.62" y1="140.81" x2="707.35" y2="144.50"/>
</g>
<radialGradient id="p1" cx="0.38" cy="0.35" r="0.7"><stop offset="0" stop-color="#b04cb8"/><stop offset="1" stop-color="#7c1888"/></radialGradient><circle cx="698.3" cy="145.5" r="7.1" fill="url(#p1)"/>
<text x="294.7" y="149.8" font-size="12.05" fill="#111" stroke="#111" text-anchor="start" textLength="35.5" lengthAdjust="spacingAndGlyphs" style="font-family:'Liberation Serif',serif;font-weight:bold" >His120</text>
<text x="337.6" y="216.5" font-size="11.92" fill="#111" stroke="#111" text-anchor="start" textLength="35.1" lengthAdjust="spacingAndGlyphs" style="font-family:'Liberation Serif',serif;font-weight:bold" >His122</text>
<text x="398.8" y="254.1" font-size="11.99" fill="#111" stroke="#111" text-anchor="start" textLength="35.3" lengthAdjust="spacingAndGlyphs" style="font-family:'Liberation Serif',serif;font-weight:bold" >His189</text>
<text x="434.8" y="237" font-size="11.96" fill="#111" stroke="#111" text-anchor="start" textLength="37.2" lengthAdjust="spacingAndGlyphs" style="font-family:'Liberation Serif',serif;font-weight:bold" >Cys208</text>
<text x="460" y="92" font-size="12.0" fill="#111" stroke="#111" text-anchor="start" textLength="38" lengthAdjust="spacingAndGlyphs" style="font-family:'Liberation Serif',serif;font-weight:bold" >Asp124</text>
<text x="497.5" y="142" font-size="12.05" fill="#111" stroke="#111" text-anchor="start" textLength="35.5" lengthAdjust="spacingAndGlyphs" style="font-family:'Liberation Serif',serif;font-weight:bold" >His250</text>
<text x="394.7" y="167.7" font-size="12.85" fill="#e0630f" stroke="#e0630f" text-anchor="start" textLength="35.7" lengthAdjust="spacingAndGlyphs" style="font-family:'Liberation Serif',serif;font-weight:bold" >Au283</text>
<text x="460.1" y="192.3" font-size="12.63" fill="#e0630f" stroke="#e0630f" text-anchor="start" textLength="35.1" lengthAdjust="spacingAndGlyphs" style="font-family:'Liberation Serif',serif;font-weight:bold" >Au282</text>
<text x="671.5" y="83" font-size="11.33" fill="#111" stroke="#111" text-anchor="start" textLength="40.3" lengthAdjust="spacingAndGlyphs" style="font-family:'Liberation Serif',serif;font-weight:bold" >TPO285</text>
<text x="717.9" y="132.9" font-size="11.01" fill="#e0630f" stroke="#e0630f" text-anchor="start" textLength="30.6" lengthAdjust="spacingAndGlyphs" style="font-family:'Liberation Serif',serif;font-weight:bold" >Au542</text>
<text x="754" y="151" font-size="11.37" fill="#111" stroke="#111" text-anchor="start" textLength="36" lengthAdjust="spacingAndGlyphs" style="font-family:'Liberation Serif',serif;font-weight:bold" >Asp465</text>
<text x="621.4" y="190.1" font-size="11.41" fill="#111" stroke="#111" text-anchor="start" textLength="35.5" lengthAdjust="spacingAndGlyphs" style="font-family:'Liberation Serif',serif;font-weight:bold" >Glu246</text>
<text x="709.7" y="224.5" font-size="11.21" fill="#111" stroke="#111" text-anchor="start" textLength="33" lengthAdjust="spacingAndGlyphs" style="font-family:'Liberation Serif',serif;font-weight:bold" >His466</text>
</svg></body></html>
